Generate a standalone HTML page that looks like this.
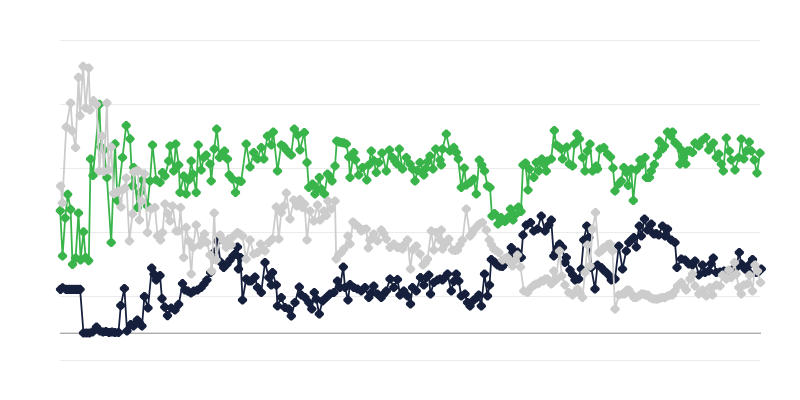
<!DOCTYPE html>
<html><head><meta charset="utf-8"><title>Chart</title>
<style>html,body{margin:0;padding:0;background:#fff;font-family:"Liberation Sans",sans-serif}svg{display:block}</style>
</head><body>
<svg width="800" height="400" viewBox="0 0 800 400">
<rect width="800" height="400" fill="#ffffff"/>
<rect x="60" y="40" width="700" height="1" fill="#ebebeb"/><rect x="60" y="104" width="700" height="1" fill="#ebebeb"/><rect x="60" y="168" width="700" height="1" fill="#ebebeb"/><rect x="60" y="232" width="700" height="1" fill="#ebebeb"/><rect x="60" y="296" width="700" height="1" fill="#ebebeb"/><rect x="60" y="360" width="700" height="1" fill="#ebebeb"/>
<rect x="60" y="332.6" width="701" height="1.4" fill="#adadad"/>
<polyline fill="none" stroke="#16203d" stroke-width="1.8" stroke-linejoin="round" stroke-linecap="round" points="60.5,289.3 62.6,287.8 66.1,289.3 68.9,289.3 71.7,289.3 74.5,289.3 77.3,289.3 80.1,289.3 83.5,333.0 86.5,333.0 89.5,333.0 92.5,332.0 96.5,327.0 100.0,331.0 103.0,332.0 106.0,331.5 109.0,332.5 112.0,332.0 115.0,332.5 118.5,332.5 120.8,305.5 124.4,288.5 127.0,331.0 130.7,324.5 133.5,326.0 137.3,320.0 139.5,323.0 142.0,326.0 144.4,296.5 148.0,308.0 151.8,268.0 154.0,274.2 156.2,280.0 160.0,275.5 162.0,298.8 164.8,307.1 167.5,315.6 171.2,308.0 175.0,310.0 178.8,304.4 182.5,283.8 185.0,290.0 188.0,291.2 191.0,293.0 193.8,291.2 197.5,290.0 201.2,287.5 204.0,284.0 206.9,280.0 210.6,272.5 214.4,252.0 217.5,241.0 220.5,262.0 223.8,267.5 227.0,264.0 230.0,260.0 233.0,256.0 235.0,254.0 237.5,247.0 238.5,269.0 240.5,257.5 242.5,300.0 246.2,279.0 248.8,280.8 251.2,281.0 255.0,277.0 257.5,287.5 261.2,292.5 265.0,262.5 268.8,277.5 271.2,285.0 272.5,272.5 276.2,285.0 277.5,306.0 281.2,297.5 285.0,307.5 288.8,309.0 291.2,316.0 295.0,302.5 299.2,287.0 301.2,295.0 305.0,297.5 308.8,302.5 311.8,309.0 314.2,292.5 316.2,299.0 319.2,314.0 322.5,301.0 326.2,297.5 330.0,294.0 333.8,292.5 337.5,281.0 340.0,287.5 343.2,267.0 345.0,287.5 348.0,300.0 350.0,284.5 353.8,287.5 357.5,289.0 361.2,291.0 365.0,287.5 368.8,297.5 371.2,292.8 373.8,286.0 377.5,294.0 381.2,297.5 383.8,294.2 386.2,291.0 390.0,279.0 393.8,287.5 397.5,279.5 400.0,295.0 403.8,291.0 407.5,296.0 410.5,304.0 412.5,287.5 416.2,291.0 420.5,277.5 423.8,285.0 426.2,277.5 428.8,275.0 430.5,294.0 433.8,282.5 437.5,280.0 440.0,279.0 442.5,280.0 445.0,277.4 447.5,274.0 451.2,291.0 453.8,281.4 456.2,274.0 458.8,281.0 461.2,296.0 465.0,294.0 467.5,302.5 470.0,306.0 473.8,300.0 476.2,298.0 478.8,295.0 481.2,306.0 484.5,274.0 487.5,296.0 489.5,285.0 491.2,259.5 494.5,262.0 497.5,265.0 500.0,266.1 502.5,266.5 504.8,263.4 507.0,258.0 511.2,247.5 513.8,254.0 517.5,252.0 521.2,257.5 523.0,235.0 526.2,225.0 530.5,222.5 533.8,231.0 537.5,229.0 541.2,216.0 545.0,231.0 548.8,225.0 551.2,220.0 553.8,256.0 555.7,252.8 557.6,247.5 559.5,244.0 562.5,247.5 565.0,262.5 566.2,257.5 570.0,270.0 572.5,274.7 575.0,280.0 578.8,279.0 581.2,269.0 583.8,240.0 586.8,226.0 588.8,237.5 591.2,267.5 595.0,289.0 597.5,265.0 601.2,267.5 603.8,270.4 606.2,272.5 608.8,275.1 611.2,280.0 615.0,279.0 618.8,246.0 622.5,269.0 626.2,251.0 628.8,242.5 631.2,239.9 633.8,237.5 636.2,247.0 639.2,226.0 641.2,236.0 644.5,219.0 647.5,230.0 651.2,224.0 653.8,234.0 656.2,233.7 658.8,235.0 662.5,226.0 665.0,236.0 667.5,229.0 671.2,240.0 675.0,242.5 677.0,267.5 681.2,259.0 685.0,260.0 688.8,264.0 692.5,265.0 695.0,261.0 698.8,275.0 702.5,265.0 705.0,272.5 708.8,271.0 711.0,263.6 713.2,258.0 716.2,272.5 720.0,272.0 724.0,271.0 728.0,273.0 732.0,270.0 736.2,267.5 739.2,252.5 741.2,264.0 745.0,269.0 747.5,271.0 750.0,264.2 752.5,259.5 756.2,272.5 758.8,271.4 761.2,269.0"/>
<path fill="#16203d" d="M59.6,284.7h1.8l3.7,3.7v1.8l-3.7,3.7h-1.8l-3.7,-3.7v-1.8zM61.7,283.2h1.8l3.7,3.7v1.8l-3.7,3.7h-1.8l-3.7,-3.7v-1.8zM65.2,284.7h1.8l3.7,3.7v1.8l-3.7,3.7h-1.8l-3.7,-3.7v-1.8zM68.0,284.7h1.8l3.7,3.7v1.8l-3.7,3.7h-1.8l-3.7,-3.7v-1.8zM70.8,284.7h1.8l3.7,3.7v1.8l-3.7,3.7h-1.8l-3.7,-3.7v-1.8zM73.6,284.7h1.8l3.7,3.7v1.8l-3.7,3.7h-1.8l-3.7,-3.7v-1.8zM76.4,284.7h1.8l3.7,3.7v1.8l-3.7,3.7h-1.8l-3.7,-3.7v-1.8zM79.2,284.7h1.8l3.7,3.7v1.8l-3.7,3.7h-1.8l-3.7,-3.7v-1.8zM82.6,328.4h1.8l3.7,3.7v1.8l-3.7,3.7h-1.8l-3.7,-3.7v-1.8zM85.6,328.4h1.8l3.7,3.7v1.8l-3.7,3.7h-1.8l-3.7,-3.7v-1.8zM88.6,328.4h1.8l3.7,3.7v1.8l-3.7,3.7h-1.8l-3.7,-3.7v-1.8zM91.6,327.4h1.8l3.7,3.7v1.8l-3.7,3.7h-1.8l-3.7,-3.7v-1.8zM95.6,322.4h1.8l3.7,3.7v1.8l-3.7,3.7h-1.8l-3.7,-3.7v-1.8zM99.1,326.4h1.8l3.7,3.7v1.8l-3.7,3.7h-1.8l-3.7,-3.7v-1.8zM102.1,327.4h1.8l3.7,3.7v1.8l-3.7,3.7h-1.8l-3.7,-3.7v-1.8zM105.1,326.9h1.8l3.7,3.7v1.8l-3.7,3.7h-1.8l-3.7,-3.7v-1.8zM108.1,327.9h1.8l3.7,3.7v1.8l-3.7,3.7h-1.8l-3.7,-3.7v-1.8zM111.1,327.4h1.8l3.7,3.7v1.8l-3.7,3.7h-1.8l-3.7,-3.7v-1.8zM114.1,327.9h1.8l3.7,3.7v1.8l-3.7,3.7h-1.8l-3.7,-3.7v-1.8zM117.6,327.9h1.8l3.7,3.7v1.8l-3.7,3.7h-1.8l-3.7,-3.7v-1.8zM119.9,300.9h1.8l3.7,3.7v1.8l-3.7,3.7h-1.8l-3.7,-3.7v-1.8zM123.5,283.9h1.8l3.7,3.7v1.8l-3.7,3.7h-1.8l-3.7,-3.7v-1.8zM126.1,326.4h1.8l3.7,3.7v1.8l-3.7,3.7h-1.8l-3.7,-3.7v-1.8zM129.8,319.9h1.8l3.7,3.7v1.8l-3.7,3.7h-1.8l-3.7,-3.7v-1.8zM132.6,321.4h1.8l3.7,3.7v1.8l-3.7,3.7h-1.8l-3.7,-3.7v-1.8zM136.4,315.4h1.8l3.7,3.7v1.8l-3.7,3.7h-1.8l-3.7,-3.7v-1.8zM138.6,318.4h1.8l3.7,3.7v1.8l-3.7,3.7h-1.8l-3.7,-3.7v-1.8zM141.1,321.4h1.8l3.7,3.7v1.8l-3.7,3.7h-1.8l-3.7,-3.7v-1.8zM143.5,291.9h1.8l3.7,3.7v1.8l-3.7,3.7h-1.8l-3.7,-3.7v-1.8zM147.1,303.4h1.8l3.7,3.7v1.8l-3.7,3.7h-1.8l-3.7,-3.7v-1.8zM150.8,263.4h1.8l3.7,3.7v1.8l-3.7,3.7h-1.8l-3.7,-3.7v-1.8zM153.1,269.6h1.8l3.7,3.7v1.8l-3.7,3.7h-1.8l-3.7,-3.7v-1.8zM155.3,275.4h1.8l3.7,3.7v1.8l-3.7,3.7h-1.8l-3.7,-3.7v-1.8zM159.1,270.9h1.8l3.7,3.7v1.8l-3.7,3.7h-1.8l-3.7,-3.7v-1.8zM161.1,294.1h1.8l3.7,3.7v1.8l-3.7,3.7h-1.8l-3.7,-3.7v-1.8zM163.8,302.5h1.8l3.7,3.7v1.8l-3.7,3.7h-1.8l-3.7,-3.7v-1.8zM166.6,311.0h1.8l3.7,3.7v1.8l-3.7,3.7h-1.8l-3.7,-3.7v-1.8zM170.3,303.4h1.8l3.7,3.7v1.8l-3.7,3.7h-1.8l-3.7,-3.7v-1.8zM174.1,305.4h1.8l3.7,3.7v1.8l-3.7,3.7h-1.8l-3.7,-3.7v-1.8zM177.8,299.8h1.8l3.7,3.7v1.8l-3.7,3.7h-1.8l-3.7,-3.7v-1.8zM181.6,279.1h1.8l3.7,3.7v1.8l-3.7,3.7h-1.8l-3.7,-3.7v-1.8zM184.1,285.4h1.8l3.7,3.7v1.8l-3.7,3.7h-1.8l-3.7,-3.7v-1.8zM187.1,286.6h1.8l3.7,3.7v1.8l-3.7,3.7h-1.8l-3.7,-3.7v-1.8zM190.1,288.4h1.8l3.7,3.7v1.8l-3.7,3.7h-1.8l-3.7,-3.7v-1.8zM192.8,286.6h1.8l3.7,3.7v1.8l-3.7,3.7h-1.8l-3.7,-3.7v-1.8zM196.6,285.4h1.8l3.7,3.7v1.8l-3.7,3.7h-1.8l-3.7,-3.7v-1.8zM200.3,282.9h1.8l3.7,3.7v1.8l-3.7,3.7h-1.8l-3.7,-3.7v-1.8zM203.1,279.4h1.8l3.7,3.7v1.8l-3.7,3.7h-1.8l-3.7,-3.7v-1.8zM206.0,275.4h1.8l3.7,3.7v1.8l-3.7,3.7h-1.8l-3.7,-3.7v-1.8zM209.7,267.9h1.8l3.7,3.7v1.8l-3.7,3.7h-1.8l-3.7,-3.7v-1.8zM213.5,247.4h1.8l3.7,3.7v1.8l-3.7,3.7h-1.8l-3.7,-3.7v-1.8zM216.6,236.4h1.8l3.7,3.7v1.8l-3.7,3.7h-1.8l-3.7,-3.7v-1.8zM219.6,257.4h1.8l3.7,3.7v1.8l-3.7,3.7h-1.8l-3.7,-3.7v-1.8zM222.8,262.9h1.8l3.7,3.7v1.8l-3.7,3.7h-1.8l-3.7,-3.7v-1.8zM226.1,259.4h1.8l3.7,3.7v1.8l-3.7,3.7h-1.8l-3.7,-3.7v-1.8zM229.1,255.4h1.8l3.7,3.7v1.8l-3.7,3.7h-1.8l-3.7,-3.7v-1.8zM232.1,251.4h1.8l3.7,3.7v1.8l-3.7,3.7h-1.8l-3.7,-3.7v-1.8zM234.1,249.4h1.8l3.7,3.7v1.8l-3.7,3.7h-1.8l-3.7,-3.7v-1.8zM236.6,242.4h1.8l3.7,3.7v1.8l-3.7,3.7h-1.8l-3.7,-3.7v-1.8zM237.6,264.4h1.8l3.7,3.7v1.8l-3.7,3.7h-1.8l-3.7,-3.7v-1.8zM239.6,252.9h1.8l3.7,3.7v1.8l-3.7,3.7h-1.8l-3.7,-3.7v-1.8zM241.6,295.4h1.8l3.7,3.7v1.8l-3.7,3.7h-1.8l-3.7,-3.7v-1.8zM245.3,274.4h1.8l3.7,3.7v1.8l-3.7,3.7h-1.8l-3.7,-3.7v-1.8zM247.8,276.2h1.8l3.7,3.7v1.8l-3.7,3.7h-1.8l-3.7,-3.7v-1.8zM250.3,276.4h1.8l3.7,3.7v1.8l-3.7,3.7h-1.8l-3.7,-3.7v-1.8zM254.1,272.4h1.8l3.7,3.7v1.8l-3.7,3.7h-1.8l-3.7,-3.7v-1.8zM256.6,282.9h1.8l3.7,3.7v1.8l-3.7,3.7h-1.8l-3.7,-3.7v-1.8zM260.4,287.9h1.8l3.7,3.7v1.8l-3.7,3.7h-1.8l-3.7,-3.7v-1.8zM264.1,257.9h1.8l3.7,3.7v1.8l-3.7,3.7h-1.8l-3.7,-3.7v-1.8zM267.9,272.9h1.8l3.7,3.7v1.8l-3.7,3.7h-1.8l-3.7,-3.7v-1.8zM270.4,280.4h1.8l3.7,3.7v1.8l-3.7,3.7h-1.8l-3.7,-3.7v-1.8zM271.6,267.9h1.8l3.7,3.7v1.8l-3.7,3.7h-1.8l-3.7,-3.7v-1.8zM275.4,280.4h1.8l3.7,3.7v1.8l-3.7,3.7h-1.8l-3.7,-3.7v-1.8zM276.6,301.4h1.8l3.7,3.7v1.8l-3.7,3.7h-1.8l-3.7,-3.7v-1.8zM280.4,292.9h1.8l3.7,3.7v1.8l-3.7,3.7h-1.8l-3.7,-3.7v-1.8zM284.1,302.9h1.8l3.7,3.7v1.8l-3.7,3.7h-1.8l-3.7,-3.7v-1.8zM287.9,304.4h1.8l3.7,3.7v1.8l-3.7,3.7h-1.8l-3.7,-3.7v-1.8zM290.4,311.4h1.8l3.7,3.7v1.8l-3.7,3.7h-1.8l-3.7,-3.7v-1.8zM294.1,297.9h1.8l3.7,3.7v1.8l-3.7,3.7h-1.8l-3.7,-3.7v-1.8zM298.4,282.4h1.8l3.7,3.7v1.8l-3.7,3.7h-1.8l-3.7,-3.7v-1.8zM300.4,290.4h1.8l3.7,3.7v1.8l-3.7,3.7h-1.8l-3.7,-3.7v-1.8zM304.1,292.9h1.8l3.7,3.7v1.8l-3.7,3.7h-1.8l-3.7,-3.7v-1.8zM307.9,297.9h1.8l3.7,3.7v1.8l-3.7,3.7h-1.8l-3.7,-3.7v-1.8zM310.9,304.4h1.8l3.7,3.7v1.8l-3.7,3.7h-1.8l-3.7,-3.7v-1.8zM313.4,287.9h1.8l3.7,3.7v1.8l-3.7,3.7h-1.8l-3.7,-3.7v-1.8zM315.4,294.4h1.8l3.7,3.7v1.8l-3.7,3.7h-1.8l-3.7,-3.7v-1.8zM318.4,309.4h1.8l3.7,3.7v1.8l-3.7,3.7h-1.8l-3.7,-3.7v-1.8zM321.6,296.4h1.8l3.7,3.7v1.8l-3.7,3.7h-1.8l-3.7,-3.7v-1.8zM325.4,292.9h1.8l3.7,3.7v1.8l-3.7,3.7h-1.8l-3.7,-3.7v-1.8zM329.1,289.4h1.8l3.7,3.7v1.8l-3.7,3.7h-1.8l-3.7,-3.7v-1.8zM332.9,287.9h1.8l3.7,3.7v1.8l-3.7,3.7h-1.8l-3.7,-3.7v-1.8zM336.6,276.4h1.8l3.7,3.7v1.8l-3.7,3.7h-1.8l-3.7,-3.7v-1.8zM339.1,282.9h1.8l3.7,3.7v1.8l-3.7,3.7h-1.8l-3.7,-3.7v-1.8zM342.4,262.4h1.8l3.7,3.7v1.8l-3.7,3.7h-1.8l-3.7,-3.7v-1.8zM344.1,282.9h1.8l3.7,3.7v1.8l-3.7,3.7h-1.8l-3.7,-3.7v-1.8zM347.1,295.4h1.8l3.7,3.7v1.8l-3.7,3.7h-1.8l-3.7,-3.7v-1.8zM349.1,279.9h1.8l3.7,3.7v1.8l-3.7,3.7h-1.8l-3.7,-3.7v-1.8zM352.9,282.9h1.8l3.7,3.7v1.8l-3.7,3.7h-1.8l-3.7,-3.7v-1.8zM356.6,284.4h1.8l3.7,3.7v1.8l-3.7,3.7h-1.8l-3.7,-3.7v-1.8zM360.4,286.4h1.8l3.7,3.7v1.8l-3.7,3.7h-1.8l-3.7,-3.7v-1.8zM364.1,282.9h1.8l3.7,3.7v1.8l-3.7,3.7h-1.8l-3.7,-3.7v-1.8zM367.9,292.9h1.8l3.7,3.7v1.8l-3.7,3.7h-1.8l-3.7,-3.7v-1.8zM370.4,288.2h1.8l3.7,3.7v1.8l-3.7,3.7h-1.8l-3.7,-3.7v-1.8zM372.9,281.4h1.8l3.7,3.7v1.8l-3.7,3.7h-1.8l-3.7,-3.7v-1.8zM376.6,289.4h1.8l3.7,3.7v1.8l-3.7,3.7h-1.8l-3.7,-3.7v-1.8zM380.4,292.9h1.8l3.7,3.7v1.8l-3.7,3.7h-1.8l-3.7,-3.7v-1.8zM382.9,289.6h1.8l3.7,3.7v1.8l-3.7,3.7h-1.8l-3.7,-3.7v-1.8zM385.4,286.4h1.8l3.7,3.7v1.8l-3.7,3.7h-1.8l-3.7,-3.7v-1.8zM389.1,274.4h1.8l3.7,3.7v1.8l-3.7,3.7h-1.8l-3.7,-3.7v-1.8zM392.9,282.9h1.8l3.7,3.7v1.8l-3.7,3.7h-1.8l-3.7,-3.7v-1.8zM396.6,274.9h1.8l3.7,3.7v1.8l-3.7,3.7h-1.8l-3.7,-3.7v-1.8zM399.1,290.4h1.8l3.7,3.7v1.8l-3.7,3.7h-1.8l-3.7,-3.7v-1.8zM402.9,286.4h1.8l3.7,3.7v1.8l-3.7,3.7h-1.8l-3.7,-3.7v-1.8zM406.6,291.4h1.8l3.7,3.7v1.8l-3.7,3.7h-1.8l-3.7,-3.7v-1.8zM409.6,299.4h1.8l3.7,3.7v1.8l-3.7,3.7h-1.8l-3.7,-3.7v-1.8zM411.6,282.9h1.8l3.7,3.7v1.8l-3.7,3.7h-1.8l-3.7,-3.7v-1.8zM415.4,286.4h1.8l3.7,3.7v1.8l-3.7,3.7h-1.8l-3.7,-3.7v-1.8zM419.6,272.9h1.8l3.7,3.7v1.8l-3.7,3.7h-1.8l-3.7,-3.7v-1.8zM422.9,280.4h1.8l3.7,3.7v1.8l-3.7,3.7h-1.8l-3.7,-3.7v-1.8zM425.4,272.9h1.8l3.7,3.7v1.8l-3.7,3.7h-1.8l-3.7,-3.7v-1.8zM427.9,270.4h1.8l3.7,3.7v1.8l-3.7,3.7h-1.8l-3.7,-3.7v-1.8zM429.6,289.4h1.8l3.7,3.7v1.8l-3.7,3.7h-1.8l-3.7,-3.7v-1.8zM432.9,277.9h1.8l3.7,3.7v1.8l-3.7,3.7h-1.8l-3.7,-3.7v-1.8zM436.6,275.4h1.8l3.7,3.7v1.8l-3.7,3.7h-1.8l-3.7,-3.7v-1.8zM439.1,274.4h1.8l3.7,3.7v1.8l-3.7,3.7h-1.8l-3.7,-3.7v-1.8zM441.6,275.4h1.8l3.7,3.7v1.8l-3.7,3.7h-1.8l-3.7,-3.7v-1.8zM444.1,272.8h1.8l3.7,3.7v1.8l-3.7,3.7h-1.8l-3.7,-3.7v-1.8zM446.6,269.4h1.8l3.7,3.7v1.8l-3.7,3.7h-1.8l-3.7,-3.7v-1.8zM450.4,286.4h1.8l3.7,3.7v1.8l-3.7,3.7h-1.8l-3.7,-3.7v-1.8zM452.9,276.8h1.8l3.7,3.7v1.8l-3.7,3.7h-1.8l-3.7,-3.7v-1.8zM455.4,269.4h1.8l3.7,3.7v1.8l-3.7,3.7h-1.8l-3.7,-3.7v-1.8zM457.9,276.4h1.8l3.7,3.7v1.8l-3.7,3.7h-1.8l-3.7,-3.7v-1.8zM460.4,291.4h1.8l3.7,3.7v1.8l-3.7,3.7h-1.8l-3.7,-3.7v-1.8zM464.1,289.4h1.8l3.7,3.7v1.8l-3.7,3.7h-1.8l-3.7,-3.7v-1.8zM466.6,297.9h1.8l3.7,3.7v1.8l-3.7,3.7h-1.8l-3.7,-3.7v-1.8zM469.1,301.4h1.8l3.7,3.7v1.8l-3.7,3.7h-1.8l-3.7,-3.7v-1.8zM472.9,295.4h1.8l3.7,3.7v1.8l-3.7,3.7h-1.8l-3.7,-3.7v-1.8zM475.4,293.4h1.8l3.7,3.7v1.8l-3.7,3.7h-1.8l-3.7,-3.7v-1.8zM477.9,290.4h1.8l3.7,3.7v1.8l-3.7,3.7h-1.8l-3.7,-3.7v-1.8zM480.4,301.4h1.8l3.7,3.7v1.8l-3.7,3.7h-1.8l-3.7,-3.7v-1.8zM483.6,269.4h1.8l3.7,3.7v1.8l-3.7,3.7h-1.8l-3.7,-3.7v-1.8zM486.6,291.4h1.8l3.7,3.7v1.8l-3.7,3.7h-1.8l-3.7,-3.7v-1.8zM488.6,280.4h1.8l3.7,3.7v1.8l-3.7,3.7h-1.8l-3.7,-3.7v-1.8zM490.4,254.9h1.8l3.7,3.7v1.8l-3.7,3.7h-1.8l-3.7,-3.7v-1.8zM493.6,257.4h1.8l3.7,3.7v1.8l-3.7,3.7h-1.8l-3.7,-3.7v-1.8zM496.6,260.4h1.8l3.7,3.7v1.8l-3.7,3.7h-1.8l-3.7,-3.7v-1.8zM499.1,261.5h1.8l3.7,3.7v1.8l-3.7,3.7h-1.8l-3.7,-3.7v-1.8zM501.6,261.9h1.8l3.7,3.7v1.8l-3.7,3.7h-1.8l-3.7,-3.7v-1.8zM503.9,258.8h1.8l3.7,3.7v1.8l-3.7,3.7h-1.8l-3.7,-3.7v-1.8zM506.1,253.4h1.8l3.7,3.7v1.8l-3.7,3.7h-1.8l-3.7,-3.7v-1.8zM510.4,242.9h1.8l3.7,3.7v1.8l-3.7,3.7h-1.8l-3.7,-3.7v-1.8zM512.9,249.4h1.8l3.7,3.7v1.8l-3.7,3.7h-1.8l-3.7,-3.7v-1.8zM516.6,247.4h1.8l3.7,3.7v1.8l-3.7,3.7h-1.8l-3.7,-3.7v-1.8zM520.4,252.9h1.8l3.7,3.7v1.8l-3.7,3.7h-1.8l-3.7,-3.7v-1.8zM522.1,230.4h1.8l3.7,3.7v1.8l-3.7,3.7h-1.8l-3.7,-3.7v-1.8zM525.4,220.4h1.8l3.7,3.7v1.8l-3.7,3.7h-1.8l-3.7,-3.7v-1.8zM529.6,217.9h1.8l3.7,3.7v1.8l-3.7,3.7h-1.8l-3.7,-3.7v-1.8zM532.9,226.4h1.8l3.7,3.7v1.8l-3.7,3.7h-1.8l-3.7,-3.7v-1.8zM536.6,224.4h1.8l3.7,3.7v1.8l-3.7,3.7h-1.8l-3.7,-3.7v-1.8zM540.4,211.4h1.8l3.7,3.7v1.8l-3.7,3.7h-1.8l-3.7,-3.7v-1.8zM544.1,226.4h1.8l3.7,3.7v1.8l-3.7,3.7h-1.8l-3.7,-3.7v-1.8zM547.9,220.4h1.8l3.7,3.7v1.8l-3.7,3.7h-1.8l-3.7,-3.7v-1.8zM550.4,215.4h1.8l3.7,3.7v1.8l-3.7,3.7h-1.8l-3.7,-3.7v-1.8zM552.9,251.4h1.8l3.7,3.7v1.8l-3.7,3.7h-1.8l-3.7,-3.7v-1.8zM554.8,248.2h1.8l3.7,3.7v1.8l-3.7,3.7h-1.8l-3.7,-3.7v-1.8zM556.7,242.9h1.8l3.7,3.7v1.8l-3.7,3.7h-1.8l-3.7,-3.7v-1.8zM558.6,239.4h1.8l3.7,3.7v1.8l-3.7,3.7h-1.8l-3.7,-3.7v-1.8zM561.6,242.9h1.8l3.7,3.7v1.8l-3.7,3.7h-1.8l-3.7,-3.7v-1.8zM564.1,257.9h1.8l3.7,3.7v1.8l-3.7,3.7h-1.8l-3.7,-3.7v-1.8zM565.4,252.9h1.8l3.7,3.7v1.8l-3.7,3.7h-1.8l-3.7,-3.7v-1.8zM569.1,265.4h1.8l3.7,3.7v1.8l-3.7,3.7h-1.8l-3.7,-3.7v-1.8zM571.6,270.1h1.8l3.7,3.7v1.8l-3.7,3.7h-1.8l-3.7,-3.7v-1.8zM574.1,275.4h1.8l3.7,3.7v1.8l-3.7,3.7h-1.8l-3.7,-3.7v-1.8zM577.9,274.4h1.8l3.7,3.7v1.8l-3.7,3.7h-1.8l-3.7,-3.7v-1.8zM580.4,264.4h1.8l3.7,3.7v1.8l-3.7,3.7h-1.8l-3.7,-3.7v-1.8zM582.9,235.4h1.8l3.7,3.7v1.8l-3.7,3.7h-1.8l-3.7,-3.7v-1.8zM585.9,221.4h1.8l3.7,3.7v1.8l-3.7,3.7h-1.8l-3.7,-3.7v-1.8zM587.9,232.9h1.8l3.7,3.7v1.8l-3.7,3.7h-1.8l-3.7,-3.7v-1.8zM590.4,262.9h1.8l3.7,3.7v1.8l-3.7,3.7h-1.8l-3.7,-3.7v-1.8zM594.1,284.4h1.8l3.7,3.7v1.8l-3.7,3.7h-1.8l-3.7,-3.7v-1.8zM596.6,260.4h1.8l3.7,3.7v1.8l-3.7,3.7h-1.8l-3.7,-3.7v-1.8zM600.4,262.9h1.8l3.7,3.7v1.8l-3.7,3.7h-1.8l-3.7,-3.7v-1.8zM602.9,265.8h1.8l3.7,3.7v1.8l-3.7,3.7h-1.8l-3.7,-3.7v-1.8zM605.4,267.9h1.8l3.7,3.7v1.8l-3.7,3.7h-1.8l-3.7,-3.7v-1.8zM607.9,270.5h1.8l3.7,3.7v1.8l-3.7,3.7h-1.8l-3.7,-3.7v-1.8zM610.4,275.4h1.8l3.7,3.7v1.8l-3.7,3.7h-1.8l-3.7,-3.7v-1.8zM614.1,274.4h1.8l3.7,3.7v1.8l-3.7,3.7h-1.8l-3.7,-3.7v-1.8zM617.9,241.4h1.8l3.7,3.7v1.8l-3.7,3.7h-1.8l-3.7,-3.7v-1.8zM621.6,264.4h1.8l3.7,3.7v1.8l-3.7,3.7h-1.8l-3.7,-3.7v-1.8zM625.4,246.4h1.8l3.7,3.7v1.8l-3.7,3.7h-1.8l-3.7,-3.7v-1.8zM627.9,237.9h1.8l3.7,3.7v1.8l-3.7,3.7h-1.8l-3.7,-3.7v-1.8zM630.4,235.3h1.8l3.7,3.7v1.8l-3.7,3.7h-1.8l-3.7,-3.7v-1.8zM632.9,232.9h1.8l3.7,3.7v1.8l-3.7,3.7h-1.8l-3.7,-3.7v-1.8zM635.4,242.4h1.8l3.7,3.7v1.8l-3.7,3.7h-1.8l-3.7,-3.7v-1.8zM638.4,221.4h1.8l3.7,3.7v1.8l-3.7,3.7h-1.8l-3.7,-3.7v-1.8zM640.4,231.4h1.8l3.7,3.7v1.8l-3.7,3.7h-1.8l-3.7,-3.7v-1.8zM643.6,214.4h1.8l3.7,3.7v1.8l-3.7,3.7h-1.8l-3.7,-3.7v-1.8zM646.6,225.4h1.8l3.7,3.7v1.8l-3.7,3.7h-1.8l-3.7,-3.7v-1.8zM650.4,219.4h1.8l3.7,3.7v1.8l-3.7,3.7h-1.8l-3.7,-3.7v-1.8zM652.9,229.4h1.8l3.7,3.7v1.8l-3.7,3.7h-1.8l-3.7,-3.7v-1.8zM655.4,229.1h1.8l3.7,3.7v1.8l-3.7,3.7h-1.8l-3.7,-3.7v-1.8zM657.9,230.4h1.8l3.7,3.7v1.8l-3.7,3.7h-1.8l-3.7,-3.7v-1.8zM661.6,221.4h1.8l3.7,3.7v1.8l-3.7,3.7h-1.8l-3.7,-3.7v-1.8zM664.1,231.4h1.8l3.7,3.7v1.8l-3.7,3.7h-1.8l-3.7,-3.7v-1.8zM666.6,224.4h1.8l3.7,3.7v1.8l-3.7,3.7h-1.8l-3.7,-3.7v-1.8zM670.4,235.4h1.8l3.7,3.7v1.8l-3.7,3.7h-1.8l-3.7,-3.7v-1.8zM674.1,237.9h1.8l3.7,3.7v1.8l-3.7,3.7h-1.8l-3.7,-3.7v-1.8zM676.1,262.9h1.8l3.7,3.7v1.8l-3.7,3.7h-1.8l-3.7,-3.7v-1.8zM680.4,254.4h1.8l3.7,3.7v1.8l-3.7,3.7h-1.8l-3.7,-3.7v-1.8zM684.1,255.4h1.8l3.7,3.7v1.8l-3.7,3.7h-1.8l-3.7,-3.7v-1.8zM687.9,259.4h1.8l3.7,3.7v1.8l-3.7,3.7h-1.8l-3.7,-3.7v-1.8zM691.6,260.4h1.8l3.7,3.7v1.8l-3.7,3.7h-1.8l-3.7,-3.7v-1.8zM694.1,256.4h1.8l3.7,3.7v1.8l-3.7,3.7h-1.8l-3.7,-3.7v-1.8zM697.9,270.4h1.8l3.7,3.7v1.8l-3.7,3.7h-1.8l-3.7,-3.7v-1.8zM701.6,260.4h1.8l3.7,3.7v1.8l-3.7,3.7h-1.8l-3.7,-3.7v-1.8zM704.1,267.9h1.8l3.7,3.7v1.8l-3.7,3.7h-1.8l-3.7,-3.7v-1.8zM707.9,266.4h1.8l3.7,3.7v1.8l-3.7,3.7h-1.8l-3.7,-3.7v-1.8zM710.1,259.0h1.8l3.7,3.7v1.8l-3.7,3.7h-1.8l-3.7,-3.7v-1.8zM712.4,253.4h1.8l3.7,3.7v1.8l-3.7,3.7h-1.8l-3.7,-3.7v-1.8zM715.4,267.9h1.8l3.7,3.7v1.8l-3.7,3.7h-1.8l-3.7,-3.7v-1.8zM719.1,267.4h1.8l3.7,3.7v1.8l-3.7,3.7h-1.8l-3.7,-3.7v-1.8zM723.1,266.4h1.8l3.7,3.7v1.8l-3.7,3.7h-1.8l-3.7,-3.7v-1.8zM727.1,268.4h1.8l3.7,3.7v1.8l-3.7,3.7h-1.8l-3.7,-3.7v-1.8zM731.1,265.4h1.8l3.7,3.7v1.8l-3.7,3.7h-1.8l-3.7,-3.7v-1.8zM735.4,262.9h1.8l3.7,3.7v1.8l-3.7,3.7h-1.8l-3.7,-3.7v-1.8zM738.4,247.9h1.8l3.7,3.7v1.8l-3.7,3.7h-1.8l-3.7,-3.7v-1.8zM740.4,259.4h1.8l3.7,3.7v1.8l-3.7,3.7h-1.8l-3.7,-3.7v-1.8zM744.1,264.4h1.8l3.7,3.7v1.8l-3.7,3.7h-1.8l-3.7,-3.7v-1.8zM746.6,266.4h1.8l3.7,3.7v1.8l-3.7,3.7h-1.8l-3.7,-3.7v-1.8zM749.1,259.6h1.8l3.7,3.7v1.8l-3.7,3.7h-1.8l-3.7,-3.7v-1.8zM751.6,254.9h1.8l3.7,3.7v1.8l-3.7,3.7h-1.8l-3.7,-3.7v-1.8zM755.4,267.9h1.8l3.7,3.7v1.8l-3.7,3.7h-1.8l-3.7,-3.7v-1.8zM757.9,266.8h1.8l3.7,3.7v1.8l-3.7,3.7h-1.8l-3.7,-3.7v-1.8zM760.4,264.4h1.8l3.7,3.7v1.8l-3.7,3.7h-1.8l-3.7,-3.7v-1.8z"/>
<polyline fill="none" stroke="#39b44a" stroke-width="1.8" stroke-linejoin="round" stroke-linecap="round" points="60.2,210.6 62.5,256.0 65.2,218.0 67.8,194.4 70.6,209.4 72.5,264.4 75.6,258.0 78.5,213.0 80.6,260.0 83.5,231.9 85.6,257.5 88.8,260.6 90.6,159.0 93.0,175.5 99.4,104.4 101.0,147.0 104.0,150.0 106.9,177.5 111.2,242.5 115.0,143.8 117.5,200.6 122.5,157.5 126.2,125.5 130.0,138.8 132.5,186.0 133.8,167.5 137.5,207.5 140.0,192.5 142.5,180.0 147.5,206.0 150.0,181.0 152.5,145.0 156.2,180.0 160.0,182.5 162.5,172.5 165.0,176.0 168.8,161.0 170.0,146.0 173.8,171.0 175.8,144.0 178.8,165.0 180.0,192.5 183.8,176.0 186.2,194.0 188.8,180.0 191.2,161.0 193.0,174.0 196.2,192.5 198.2,145.0 201.2,170.0 203.8,157.5 206.2,155.0 210.0,164.0 211.2,181.0 214.2,149.0 216.8,129.0 219.5,157.5 222.0,153.8 224.5,151.0 227.5,159.0 229.2,175.0 232.5,179.0 235.5,192.5 238.8,181.0 241.2,181.2 246.2,144.0 250.0,167.0 253.8,152.5 257.5,159.0 261.2,147.5 263.8,159.0 267.5,136.0 271.2,145.0 273.2,132.0 277.5,171.0 281.2,145.0 283.8,146.7 286.2,150.0 288.8,152.9 291.2,155.0 294.2,129.0 297.5,135.0 300.0,150.0 304.2,132.5 307.0,162.5 308.8,187.5 312.5,184.0 315.0,194.0 317.0,190.0 319.2,177.5 321.2,189.0 324.5,194.0 327.5,174.0 329.8,176.5 332.0,181.0 335.0,166.0 336.8,141.0 339.0,141.8 341.2,142.5 343.8,142.9 346.2,144.0 348.8,157.0 350.0,177.5 353.8,152.5 355.5,160.0 358.8,175.0 362.5,167.5 366.8,180.0 368.8,165.0 371.2,151.0 373.8,160.7 376.2,172.5 378.8,162.5 382.0,153.0 386.2,171.0 389.5,150.0 392.5,157.5 394.8,160.8 397.0,164.0 399.2,149.0 402.5,169.0 406.2,157.5 410.0,164.0 412.5,169.0 415.0,181.0 417.5,170.6 420.0,162.5 423.8,175.0 425.8,168.5 427.9,161.3 430.0,156.0 433.0,169.0 435.8,149.0 440.0,160.0 441.2,165.0 442.5,149.0 446.2,134.0 450.0,151.0 453.8,147.5 456.2,152.5 458.2,159.0 461.2,187.5 464.2,168.0 466.2,185.0 470.0,182.5 473.8,179.0 476.2,194.0 479.2,160.0 481.8,165.0 484.5,171.0 487.5,186.0 490.0,187.5 492.0,216.0 494.5,213.5 498.0,224.0 501.0,217.5 505.0,221.5 509.0,216.5 510.5,209.0 513.0,220.0 515.0,215.0 518.5,207.0 521.0,211.5 523.0,165.0 525.5,163.0 528.0,190.0 529.5,169.0 533.8,177.5 536.2,162.5 538.8,171.0 541.8,159.0 544.0,164.0 546.2,171.0 547.5,161.0 551.2,159.0 554.2,130.5 556.2,145.0 558.8,146.8 561.2,149.0 562.5,159.0 566.8,147.0 569.2,164.0 572.5,166.0 574.5,144.0 577.0,134.0 579.5,139.0 582.5,157.5 585.0,171.0 587.5,151.0 590.0,144.0 592.5,171.0 596.2,166.0 597.5,169.0 600.0,149.0 603.8,147.5 607.5,154.0 610.5,157.0 613.0,168.0 615.0,191.0 618.8,184.0 621.2,181.0 623.8,167.5 626.2,172.5 628.2,185.5 631.2,169.0 633.2,200.5 636.2,170.0 640.0,160.0 641.2,165.0 645.0,157.5 646.2,177.5 649.5,177.5 651.2,171.0 654.2,164.5 657.5,155.0 659.2,141.0 662.5,149.0 664.5,146.0 667.5,132.0 670.8,136.0 672.5,132.0 675.0,142.5 677.5,145.0 680.0,164.0 681.2,150.0 683.5,157.8 685.8,164.0 687.5,151.0 690.0,150.8 692.5,152.5 695.0,143.0 698.8,146.0 702.5,140.0 705.8,137.5 708.8,150.0 711.0,145.8 713.2,143.0 716.2,157.5 718.8,154.0 721.2,164.0 723.2,171.0 726.2,138.0 729.2,151.0 731.2,160.0 735.0,170.0 738.8,157.5 741.2,139.0 743.8,159.0 746.5,150.8 749.2,142.0 751.2,151.0 754.2,160.0 757.0,173.0 760.0,153.0"/>
<path fill="#39b44a" d="M59.4,206.0h1.8l3.7,3.7v1.8l-3.7,3.7h-1.8l-3.7,-3.7v-1.8zM61.6,251.4h1.8l3.7,3.7v1.8l-3.7,3.7h-1.8l-3.7,-3.7v-1.8zM64.3,213.4h1.8l3.7,3.7v1.8l-3.7,3.7h-1.8l-3.7,-3.7v-1.8zM66.8,189.8h1.8l3.7,3.7v1.8l-3.7,3.7h-1.8l-3.7,-3.7v-1.8zM69.7,204.8h1.8l3.7,3.7v1.8l-3.7,3.7h-1.8l-3.7,-3.7v-1.8zM71.6,259.8h1.8l3.7,3.7v1.8l-3.7,3.7h-1.8l-3.7,-3.7v-1.8zM74.7,253.4h1.8l3.7,3.7v1.8l-3.7,3.7h-1.8l-3.7,-3.7v-1.8zM77.6,208.4h1.8l3.7,3.7v1.8l-3.7,3.7h-1.8l-3.7,-3.7v-1.8zM79.7,255.4h1.8l3.7,3.7v1.8l-3.7,3.7h-1.8l-3.7,-3.7v-1.8zM82.6,227.3h1.8l3.7,3.7v1.8l-3.7,3.7h-1.8l-3.7,-3.7v-1.8zM84.7,252.9h1.8l3.7,3.7v1.8l-3.7,3.7h-1.8l-3.7,-3.7v-1.8zM87.8,256.0h1.8l3.7,3.7v1.8l-3.7,3.7h-1.8l-3.7,-3.7v-1.8zM89.7,154.4h1.8l3.7,3.7v1.8l-3.7,3.7h-1.8l-3.7,-3.7v-1.8zM92.1,170.9h1.8l3.7,3.7v1.8l-3.7,3.7h-1.8l-3.7,-3.7v-1.8zM98.5,99.8h1.8l3.7,3.7v1.8l-3.7,3.7h-1.8l-3.7,-3.7v-1.8zM100.1,142.4h1.8l3.7,3.7v1.8l-3.7,3.7h-1.8l-3.7,-3.7v-1.8zM103.1,145.4h1.8l3.7,3.7v1.8l-3.7,3.7h-1.8l-3.7,-3.7v-1.8zM106.0,172.9h1.8l3.7,3.7v1.8l-3.7,3.7h-1.8l-3.7,-3.7v-1.8zM110.3,237.9h1.8l3.7,3.7v1.8l-3.7,3.7h-1.8l-3.7,-3.7v-1.8zM114.1,139.2h1.8l3.7,3.7v1.8l-3.7,3.7h-1.8l-3.7,-3.7v-1.8zM116.6,196.0h1.8l3.7,3.7v1.8l-3.7,3.7h-1.8l-3.7,-3.7v-1.8zM121.6,152.9h1.8l3.7,3.7v1.8l-3.7,3.7h-1.8l-3.7,-3.7v-1.8zM125.3,120.9h1.8l3.7,3.7v1.8l-3.7,3.7h-1.8l-3.7,-3.7v-1.8zM129.1,134.2h1.8l3.7,3.7v1.8l-3.7,3.7h-1.8l-3.7,-3.7v-1.8zM131.6,181.4h1.8l3.7,3.7v1.8l-3.7,3.7h-1.8l-3.7,-3.7v-1.8zM132.8,162.9h1.8l3.7,3.7v1.8l-3.7,3.7h-1.8l-3.7,-3.7v-1.8zM136.6,202.9h1.8l3.7,3.7v1.8l-3.7,3.7h-1.8l-3.7,-3.7v-1.8zM139.1,187.9h1.8l3.7,3.7v1.8l-3.7,3.7h-1.8l-3.7,-3.7v-1.8zM141.6,175.4h1.8l3.7,3.7v1.8l-3.7,3.7h-1.8l-3.7,-3.7v-1.8zM146.6,201.4h1.8l3.7,3.7v1.8l-3.7,3.7h-1.8l-3.7,-3.7v-1.8zM149.1,176.4h1.8l3.7,3.7v1.8l-3.7,3.7h-1.8l-3.7,-3.7v-1.8zM151.6,140.4h1.8l3.7,3.7v1.8l-3.7,3.7h-1.8l-3.7,-3.7v-1.8zM155.3,175.4h1.8l3.7,3.7v1.8l-3.7,3.7h-1.8l-3.7,-3.7v-1.8zM159.1,177.9h1.8l3.7,3.7v1.8l-3.7,3.7h-1.8l-3.7,-3.7v-1.8zM161.6,167.9h1.8l3.7,3.7v1.8l-3.7,3.7h-1.8l-3.7,-3.7v-1.8zM164.1,171.4h1.8l3.7,3.7v1.8l-3.7,3.7h-1.8l-3.7,-3.7v-1.8zM167.8,156.4h1.8l3.7,3.7v1.8l-3.7,3.7h-1.8l-3.7,-3.7v-1.8zM169.1,141.4h1.8l3.7,3.7v1.8l-3.7,3.7h-1.8l-3.7,-3.7v-1.8zM172.8,166.4h1.8l3.7,3.7v1.8l-3.7,3.7h-1.8l-3.7,-3.7v-1.8zM174.8,139.4h1.8l3.7,3.7v1.8l-3.7,3.7h-1.8l-3.7,-3.7v-1.8zM177.8,160.4h1.8l3.7,3.7v1.8l-3.7,3.7h-1.8l-3.7,-3.7v-1.8zM179.1,187.9h1.8l3.7,3.7v1.8l-3.7,3.7h-1.8l-3.7,-3.7v-1.8zM182.8,171.4h1.8l3.7,3.7v1.8l-3.7,3.7h-1.8l-3.7,-3.7v-1.8zM185.3,189.4h1.8l3.7,3.7v1.8l-3.7,3.7h-1.8l-3.7,-3.7v-1.8zM187.8,175.4h1.8l3.7,3.7v1.8l-3.7,3.7h-1.8l-3.7,-3.7v-1.8zM190.3,156.4h1.8l3.7,3.7v1.8l-3.7,3.7h-1.8l-3.7,-3.7v-1.8zM192.1,169.4h1.8l3.7,3.7v1.8l-3.7,3.7h-1.8l-3.7,-3.7v-1.8zM195.3,187.9h1.8l3.7,3.7v1.8l-3.7,3.7h-1.8l-3.7,-3.7v-1.8zM197.3,140.4h1.8l3.7,3.7v1.8l-3.7,3.7h-1.8l-3.7,-3.7v-1.8zM200.3,165.4h1.8l3.7,3.7v1.8l-3.7,3.7h-1.8l-3.7,-3.7v-1.8zM202.8,152.9h1.8l3.7,3.7v1.8l-3.7,3.7h-1.8l-3.7,-3.7v-1.8zM205.3,150.4h1.8l3.7,3.7v1.8l-3.7,3.7h-1.8l-3.7,-3.7v-1.8zM209.1,159.4h1.8l3.7,3.7v1.8l-3.7,3.7h-1.8l-3.7,-3.7v-1.8zM210.3,176.4h1.8l3.7,3.7v1.8l-3.7,3.7h-1.8l-3.7,-3.7v-1.8zM213.3,144.4h1.8l3.7,3.7v1.8l-3.7,3.7h-1.8l-3.7,-3.7v-1.8zM215.8,124.4h1.8l3.7,3.7v1.8l-3.7,3.7h-1.8l-3.7,-3.7v-1.8zM218.6,152.9h1.8l3.7,3.7v1.8l-3.7,3.7h-1.8l-3.7,-3.7v-1.8zM221.1,149.2h1.8l3.7,3.7v1.8l-3.7,3.7h-1.8l-3.7,-3.7v-1.8zM223.6,146.4h1.8l3.7,3.7v1.8l-3.7,3.7h-1.8l-3.7,-3.7v-1.8zM226.6,154.4h1.8l3.7,3.7v1.8l-3.7,3.7h-1.8l-3.7,-3.7v-1.8zM228.3,170.4h1.8l3.7,3.7v1.8l-3.7,3.7h-1.8l-3.7,-3.7v-1.8zM231.6,174.4h1.8l3.7,3.7v1.8l-3.7,3.7h-1.8l-3.7,-3.7v-1.8zM234.6,187.9h1.8l3.7,3.7v1.8l-3.7,3.7h-1.8l-3.7,-3.7v-1.8zM237.8,176.4h1.8l3.7,3.7v1.8l-3.7,3.7h-1.8l-3.7,-3.7v-1.8zM240.3,176.7h1.8l3.7,3.7v1.8l-3.7,3.7h-1.8l-3.7,-3.7v-1.8zM245.3,139.4h1.8l3.7,3.7v1.8l-3.7,3.7h-1.8l-3.7,-3.7v-1.8zM249.1,162.4h1.8l3.7,3.7v1.8l-3.7,3.7h-1.8l-3.7,-3.7v-1.8zM252.8,147.9h1.8l3.7,3.7v1.8l-3.7,3.7h-1.8l-3.7,-3.7v-1.8zM256.6,154.4h1.8l3.7,3.7v1.8l-3.7,3.7h-1.8l-3.7,-3.7v-1.8zM260.4,142.9h1.8l3.7,3.7v1.8l-3.7,3.7h-1.8l-3.7,-3.7v-1.8zM262.9,154.4h1.8l3.7,3.7v1.8l-3.7,3.7h-1.8l-3.7,-3.7v-1.8zM266.6,131.4h1.8l3.7,3.7v1.8l-3.7,3.7h-1.8l-3.7,-3.7v-1.8zM270.4,140.4h1.8l3.7,3.7v1.8l-3.7,3.7h-1.8l-3.7,-3.7v-1.8zM272.4,127.4h1.8l3.7,3.7v1.8l-3.7,3.7h-1.8l-3.7,-3.7v-1.8zM276.6,166.4h1.8l3.7,3.7v1.8l-3.7,3.7h-1.8l-3.7,-3.7v-1.8zM280.4,140.4h1.8l3.7,3.7v1.8l-3.7,3.7h-1.8l-3.7,-3.7v-1.8zM282.9,142.1h1.8l3.7,3.7v1.8l-3.7,3.7h-1.8l-3.7,-3.7v-1.8zM285.4,145.4h1.8l3.7,3.7v1.8l-3.7,3.7h-1.8l-3.7,-3.7v-1.8zM287.9,148.3h1.8l3.7,3.7v1.8l-3.7,3.7h-1.8l-3.7,-3.7v-1.8zM290.4,150.4h1.8l3.7,3.7v1.8l-3.7,3.7h-1.8l-3.7,-3.7v-1.8zM293.4,124.4h1.8l3.7,3.7v1.8l-3.7,3.7h-1.8l-3.7,-3.7v-1.8zM296.6,130.4h1.8l3.7,3.7v1.8l-3.7,3.7h-1.8l-3.7,-3.7v-1.8zM299.1,145.4h1.8l3.7,3.7v1.8l-3.7,3.7h-1.8l-3.7,-3.7v-1.8zM303.4,127.9h1.8l3.7,3.7v1.8l-3.7,3.7h-1.8l-3.7,-3.7v-1.8zM306.1,157.9h1.8l3.7,3.7v1.8l-3.7,3.7h-1.8l-3.7,-3.7v-1.8zM307.9,182.9h1.8l3.7,3.7v1.8l-3.7,3.7h-1.8l-3.7,-3.7v-1.8zM311.6,179.4h1.8l3.7,3.7v1.8l-3.7,3.7h-1.8l-3.7,-3.7v-1.8zM314.1,189.4h1.8l3.7,3.7v1.8l-3.7,3.7h-1.8l-3.7,-3.7v-1.8zM316.1,185.4h1.8l3.7,3.7v1.8l-3.7,3.7h-1.8l-3.7,-3.7v-1.8zM318.4,172.9h1.8l3.7,3.7v1.8l-3.7,3.7h-1.8l-3.7,-3.7v-1.8zM320.4,184.4h1.8l3.7,3.7v1.8l-3.7,3.7h-1.8l-3.7,-3.7v-1.8zM323.6,189.4h1.8l3.7,3.7v1.8l-3.7,3.7h-1.8l-3.7,-3.7v-1.8zM326.6,169.4h1.8l3.7,3.7v1.8l-3.7,3.7h-1.8l-3.7,-3.7v-1.8zM328.9,171.9h1.8l3.7,3.7v1.8l-3.7,3.7h-1.8l-3.7,-3.7v-1.8zM331.1,176.4h1.8l3.7,3.7v1.8l-3.7,3.7h-1.8l-3.7,-3.7v-1.8zM334.1,161.4h1.8l3.7,3.7v1.8l-3.7,3.7h-1.8l-3.7,-3.7v-1.8zM335.9,136.4h1.8l3.7,3.7v1.8l-3.7,3.7h-1.8l-3.7,-3.7v-1.8zM338.1,137.2h1.8l3.7,3.7v1.8l-3.7,3.7h-1.8l-3.7,-3.7v-1.8zM340.4,137.9h1.8l3.7,3.7v1.8l-3.7,3.7h-1.8l-3.7,-3.7v-1.8zM342.9,138.3h1.8l3.7,3.7v1.8l-3.7,3.7h-1.8l-3.7,-3.7v-1.8zM345.4,139.4h1.8l3.7,3.7v1.8l-3.7,3.7h-1.8l-3.7,-3.7v-1.8zM347.9,152.4h1.8l3.7,3.7v1.8l-3.7,3.7h-1.8l-3.7,-3.7v-1.8zM349.1,172.9h1.8l3.7,3.7v1.8l-3.7,3.7h-1.8l-3.7,-3.7v-1.8zM352.9,147.9h1.8l3.7,3.7v1.8l-3.7,3.7h-1.8l-3.7,-3.7v-1.8zM354.6,155.4h1.8l3.7,3.7v1.8l-3.7,3.7h-1.8l-3.7,-3.7v-1.8zM357.9,170.4h1.8l3.7,3.7v1.8l-3.7,3.7h-1.8l-3.7,-3.7v-1.8zM361.6,162.9h1.8l3.7,3.7v1.8l-3.7,3.7h-1.8l-3.7,-3.7v-1.8zM365.9,175.4h1.8l3.7,3.7v1.8l-3.7,3.7h-1.8l-3.7,-3.7v-1.8zM367.9,160.4h1.8l3.7,3.7v1.8l-3.7,3.7h-1.8l-3.7,-3.7v-1.8zM370.4,146.4h1.8l3.7,3.7v1.8l-3.7,3.7h-1.8l-3.7,-3.7v-1.8zM372.9,156.1h1.8l3.7,3.7v1.8l-3.7,3.7h-1.8l-3.7,-3.7v-1.8zM375.4,167.9h1.8l3.7,3.7v1.8l-3.7,3.7h-1.8l-3.7,-3.7v-1.8zM377.9,157.9h1.8l3.7,3.7v1.8l-3.7,3.7h-1.8l-3.7,-3.7v-1.8zM381.1,148.4h1.8l3.7,3.7v1.8l-3.7,3.7h-1.8l-3.7,-3.7v-1.8zM385.4,166.4h1.8l3.7,3.7v1.8l-3.7,3.7h-1.8l-3.7,-3.7v-1.8zM388.6,145.4h1.8l3.7,3.7v1.8l-3.7,3.7h-1.8l-3.7,-3.7v-1.8zM391.6,152.9h1.8l3.7,3.7v1.8l-3.7,3.7h-1.8l-3.7,-3.7v-1.8zM393.9,156.2h1.8l3.7,3.7v1.8l-3.7,3.7h-1.8l-3.7,-3.7v-1.8zM396.1,159.4h1.8l3.7,3.7v1.8l-3.7,3.7h-1.8l-3.7,-3.7v-1.8zM398.4,144.4h1.8l3.7,3.7v1.8l-3.7,3.7h-1.8l-3.7,-3.7v-1.8zM401.6,164.4h1.8l3.7,3.7v1.8l-3.7,3.7h-1.8l-3.7,-3.7v-1.8zM405.4,152.9h1.8l3.7,3.7v1.8l-3.7,3.7h-1.8l-3.7,-3.7v-1.8zM409.1,159.4h1.8l3.7,3.7v1.8l-3.7,3.7h-1.8l-3.7,-3.7v-1.8zM411.6,164.4h1.8l3.7,3.7v1.8l-3.7,3.7h-1.8l-3.7,-3.7v-1.8zM414.1,176.4h1.8l3.7,3.7v1.8l-3.7,3.7h-1.8l-3.7,-3.7v-1.8zM416.6,166.0h1.8l3.7,3.7v1.8l-3.7,3.7h-1.8l-3.7,-3.7v-1.8zM419.1,157.9h1.8l3.7,3.7v1.8l-3.7,3.7h-1.8l-3.7,-3.7v-1.8zM422.9,170.4h1.8l3.7,3.7v1.8l-3.7,3.7h-1.8l-3.7,-3.7v-1.8zM424.9,163.9h1.8l3.7,3.7v1.8l-3.7,3.7h-1.8l-3.7,-3.7v-1.8zM427.0,156.7h1.8l3.7,3.7v1.8l-3.7,3.7h-1.8l-3.7,-3.7v-1.8zM429.1,151.4h1.8l3.7,3.7v1.8l-3.7,3.7h-1.8l-3.7,-3.7v-1.8zM432.1,164.4h1.8l3.7,3.7v1.8l-3.7,3.7h-1.8l-3.7,-3.7v-1.8zM434.9,144.4h1.8l3.7,3.7v1.8l-3.7,3.7h-1.8l-3.7,-3.7v-1.8zM439.1,155.4h1.8l3.7,3.7v1.8l-3.7,3.7h-1.8l-3.7,-3.7v-1.8zM440.4,160.4h1.8l3.7,3.7v1.8l-3.7,3.7h-1.8l-3.7,-3.7v-1.8zM441.6,144.4h1.8l3.7,3.7v1.8l-3.7,3.7h-1.8l-3.7,-3.7v-1.8zM445.4,129.4h1.8l3.7,3.7v1.8l-3.7,3.7h-1.8l-3.7,-3.7v-1.8zM449.1,146.4h1.8l3.7,3.7v1.8l-3.7,3.7h-1.8l-3.7,-3.7v-1.8zM452.9,142.9h1.8l3.7,3.7v1.8l-3.7,3.7h-1.8l-3.7,-3.7v-1.8zM455.4,147.9h1.8l3.7,3.7v1.8l-3.7,3.7h-1.8l-3.7,-3.7v-1.8zM457.4,154.4h1.8l3.7,3.7v1.8l-3.7,3.7h-1.8l-3.7,-3.7v-1.8zM460.4,182.9h1.8l3.7,3.7v1.8l-3.7,3.7h-1.8l-3.7,-3.7v-1.8zM463.4,163.4h1.8l3.7,3.7v1.8l-3.7,3.7h-1.8l-3.7,-3.7v-1.8zM465.4,180.4h1.8l3.7,3.7v1.8l-3.7,3.7h-1.8l-3.7,-3.7v-1.8zM469.1,177.9h1.8l3.7,3.7v1.8l-3.7,3.7h-1.8l-3.7,-3.7v-1.8zM472.9,174.4h1.8l3.7,3.7v1.8l-3.7,3.7h-1.8l-3.7,-3.7v-1.8zM475.4,189.4h1.8l3.7,3.7v1.8l-3.7,3.7h-1.8l-3.7,-3.7v-1.8zM478.4,155.4h1.8l3.7,3.7v1.8l-3.7,3.7h-1.8l-3.7,-3.7v-1.8zM480.9,160.4h1.8l3.7,3.7v1.8l-3.7,3.7h-1.8l-3.7,-3.7v-1.8zM483.6,166.4h1.8l3.7,3.7v1.8l-3.7,3.7h-1.8l-3.7,-3.7v-1.8zM486.6,181.4h1.8l3.7,3.7v1.8l-3.7,3.7h-1.8l-3.7,-3.7v-1.8zM489.1,182.9h1.8l3.7,3.7v1.8l-3.7,3.7h-1.8l-3.7,-3.7v-1.8zM491.1,211.4h1.8l3.7,3.7v1.8l-3.7,3.7h-1.8l-3.7,-3.7v-1.8zM493.6,208.9h1.8l3.7,3.7v1.8l-3.7,3.7h-1.8l-3.7,-3.7v-1.8zM497.1,219.4h1.8l3.7,3.7v1.8l-3.7,3.7h-1.8l-3.7,-3.7v-1.8zM500.1,212.9h1.8l3.7,3.7v1.8l-3.7,3.7h-1.8l-3.7,-3.7v-1.8zM504.1,216.9h1.8l3.7,3.7v1.8l-3.7,3.7h-1.8l-3.7,-3.7v-1.8zM508.1,211.9h1.8l3.7,3.7v1.8l-3.7,3.7h-1.8l-3.7,-3.7v-1.8zM509.6,204.4h1.8l3.7,3.7v1.8l-3.7,3.7h-1.8l-3.7,-3.7v-1.8zM512.1,215.4h1.8l3.7,3.7v1.8l-3.7,3.7h-1.8l-3.7,-3.7v-1.8zM514.1,210.4h1.8l3.7,3.7v1.8l-3.7,3.7h-1.8l-3.7,-3.7v-1.8zM517.6,202.4h1.8l3.7,3.7v1.8l-3.7,3.7h-1.8l-3.7,-3.7v-1.8zM520.1,206.9h1.8l3.7,3.7v1.8l-3.7,3.7h-1.8l-3.7,-3.7v-1.8zM522.1,160.4h1.8l3.7,3.7v1.8l-3.7,3.7h-1.8l-3.7,-3.7v-1.8zM524.6,158.4h1.8l3.7,3.7v1.8l-3.7,3.7h-1.8l-3.7,-3.7v-1.8zM527.1,185.4h1.8l3.7,3.7v1.8l-3.7,3.7h-1.8l-3.7,-3.7v-1.8zM528.6,164.4h1.8l3.7,3.7v1.8l-3.7,3.7h-1.8l-3.7,-3.7v-1.8zM532.9,172.9h1.8l3.7,3.7v1.8l-3.7,3.7h-1.8l-3.7,-3.7v-1.8zM535.4,157.9h1.8l3.7,3.7v1.8l-3.7,3.7h-1.8l-3.7,-3.7v-1.8zM537.9,166.4h1.8l3.7,3.7v1.8l-3.7,3.7h-1.8l-3.7,-3.7v-1.8zM540.9,154.4h1.8l3.7,3.7v1.8l-3.7,3.7h-1.8l-3.7,-3.7v-1.8zM543.1,159.4h1.8l3.7,3.7v1.8l-3.7,3.7h-1.8l-3.7,-3.7v-1.8zM545.4,166.4h1.8l3.7,3.7v1.8l-3.7,3.7h-1.8l-3.7,-3.7v-1.8zM546.6,156.4h1.8l3.7,3.7v1.8l-3.7,3.7h-1.8l-3.7,-3.7v-1.8zM550.4,154.4h1.8l3.7,3.7v1.8l-3.7,3.7h-1.8l-3.7,-3.7v-1.8zM553.4,125.9h1.8l3.7,3.7v1.8l-3.7,3.7h-1.8l-3.7,-3.7v-1.8zM555.4,140.4h1.8l3.7,3.7v1.8l-3.7,3.7h-1.8l-3.7,-3.7v-1.8zM557.9,142.2h1.8l3.7,3.7v1.8l-3.7,3.7h-1.8l-3.7,-3.7v-1.8zM560.4,144.4h1.8l3.7,3.7v1.8l-3.7,3.7h-1.8l-3.7,-3.7v-1.8zM561.6,154.4h1.8l3.7,3.7v1.8l-3.7,3.7h-1.8l-3.7,-3.7v-1.8zM565.9,142.4h1.8l3.7,3.7v1.8l-3.7,3.7h-1.8l-3.7,-3.7v-1.8zM568.4,159.4h1.8l3.7,3.7v1.8l-3.7,3.7h-1.8l-3.7,-3.7v-1.8zM571.6,161.4h1.8l3.7,3.7v1.8l-3.7,3.7h-1.8l-3.7,-3.7v-1.8zM573.6,139.4h1.8l3.7,3.7v1.8l-3.7,3.7h-1.8l-3.7,-3.7v-1.8zM576.1,129.4h1.8l3.7,3.7v1.8l-3.7,3.7h-1.8l-3.7,-3.7v-1.8zM578.6,134.4h1.8l3.7,3.7v1.8l-3.7,3.7h-1.8l-3.7,-3.7v-1.8zM581.6,152.9h1.8l3.7,3.7v1.8l-3.7,3.7h-1.8l-3.7,-3.7v-1.8zM584.1,166.4h1.8l3.7,3.7v1.8l-3.7,3.7h-1.8l-3.7,-3.7v-1.8zM586.6,146.4h1.8l3.7,3.7v1.8l-3.7,3.7h-1.8l-3.7,-3.7v-1.8zM589.1,139.4h1.8l3.7,3.7v1.8l-3.7,3.7h-1.8l-3.7,-3.7v-1.8zM591.6,166.4h1.8l3.7,3.7v1.8l-3.7,3.7h-1.8l-3.7,-3.7v-1.8zM595.4,161.4h1.8l3.7,3.7v1.8l-3.7,3.7h-1.8l-3.7,-3.7v-1.8zM596.6,164.4h1.8l3.7,3.7v1.8l-3.7,3.7h-1.8l-3.7,-3.7v-1.8zM599.1,144.4h1.8l3.7,3.7v1.8l-3.7,3.7h-1.8l-3.7,-3.7v-1.8zM602.9,142.9h1.8l3.7,3.7v1.8l-3.7,3.7h-1.8l-3.7,-3.7v-1.8zM606.6,149.4h1.8l3.7,3.7v1.8l-3.7,3.7h-1.8l-3.7,-3.7v-1.8zM609.6,152.4h1.8l3.7,3.7v1.8l-3.7,3.7h-1.8l-3.7,-3.7v-1.8zM612.1,163.4h1.8l3.7,3.7v1.8l-3.7,3.7h-1.8l-3.7,-3.7v-1.8zM614.1,186.4h1.8l3.7,3.7v1.8l-3.7,3.7h-1.8l-3.7,-3.7v-1.8zM617.9,179.4h1.8l3.7,3.7v1.8l-3.7,3.7h-1.8l-3.7,-3.7v-1.8zM620.4,176.4h1.8l3.7,3.7v1.8l-3.7,3.7h-1.8l-3.7,-3.7v-1.8zM622.9,162.9h1.8l3.7,3.7v1.8l-3.7,3.7h-1.8l-3.7,-3.7v-1.8zM625.4,167.9h1.8l3.7,3.7v1.8l-3.7,3.7h-1.8l-3.7,-3.7v-1.8zM627.4,180.9h1.8l3.7,3.7v1.8l-3.7,3.7h-1.8l-3.7,-3.7v-1.8zM630.4,164.4h1.8l3.7,3.7v1.8l-3.7,3.7h-1.8l-3.7,-3.7v-1.8zM632.4,195.9h1.8l3.7,3.7v1.8l-3.7,3.7h-1.8l-3.7,-3.7v-1.8zM635.4,165.4h1.8l3.7,3.7v1.8l-3.7,3.7h-1.8l-3.7,-3.7v-1.8zM639.1,155.4h1.8l3.7,3.7v1.8l-3.7,3.7h-1.8l-3.7,-3.7v-1.8zM640.4,160.4h1.8l3.7,3.7v1.8l-3.7,3.7h-1.8l-3.7,-3.7v-1.8zM644.1,152.9h1.8l3.7,3.7v1.8l-3.7,3.7h-1.8l-3.7,-3.7v-1.8zM645.4,172.9h1.8l3.7,3.7v1.8l-3.7,3.7h-1.8l-3.7,-3.7v-1.8zM648.6,172.9h1.8l3.7,3.7v1.8l-3.7,3.7h-1.8l-3.7,-3.7v-1.8zM650.4,166.4h1.8l3.7,3.7v1.8l-3.7,3.7h-1.8l-3.7,-3.7v-1.8zM653.4,159.9h1.8l3.7,3.7v1.8l-3.7,3.7h-1.8l-3.7,-3.7v-1.8zM656.6,150.4h1.8l3.7,3.7v1.8l-3.7,3.7h-1.8l-3.7,-3.7v-1.8zM658.4,136.4h1.8l3.7,3.7v1.8l-3.7,3.7h-1.8l-3.7,-3.7v-1.8zM661.6,144.4h1.8l3.7,3.7v1.8l-3.7,3.7h-1.8l-3.7,-3.7v-1.8zM663.6,141.4h1.8l3.7,3.7v1.8l-3.7,3.7h-1.8l-3.7,-3.7v-1.8zM666.6,127.4h1.8l3.7,3.7v1.8l-3.7,3.7h-1.8l-3.7,-3.7v-1.8zM669.9,131.4h1.8l3.7,3.7v1.8l-3.7,3.7h-1.8l-3.7,-3.7v-1.8zM671.6,127.4h1.8l3.7,3.7v1.8l-3.7,3.7h-1.8l-3.7,-3.7v-1.8zM674.1,137.9h1.8l3.7,3.7v1.8l-3.7,3.7h-1.8l-3.7,-3.7v-1.8zM676.6,140.4h1.8l3.7,3.7v1.8l-3.7,3.7h-1.8l-3.7,-3.7v-1.8zM679.1,159.4h1.8l3.7,3.7v1.8l-3.7,3.7h-1.8l-3.7,-3.7v-1.8zM680.4,145.4h1.8l3.7,3.7v1.8l-3.7,3.7h-1.8l-3.7,-3.7v-1.8zM682.6,153.2h1.8l3.7,3.7v1.8l-3.7,3.7h-1.8l-3.7,-3.7v-1.8zM684.9,159.4h1.8l3.7,3.7v1.8l-3.7,3.7h-1.8l-3.7,-3.7v-1.8zM686.6,146.4h1.8l3.7,3.7v1.8l-3.7,3.7h-1.8l-3.7,-3.7v-1.8zM689.1,146.2h1.8l3.7,3.7v1.8l-3.7,3.7h-1.8l-3.7,-3.7v-1.8zM691.6,147.9h1.8l3.7,3.7v1.8l-3.7,3.7h-1.8l-3.7,-3.7v-1.8zM694.1,138.4h1.8l3.7,3.7v1.8l-3.7,3.7h-1.8l-3.7,-3.7v-1.8zM697.9,141.4h1.8l3.7,3.7v1.8l-3.7,3.7h-1.8l-3.7,-3.7v-1.8zM701.6,135.4h1.8l3.7,3.7v1.8l-3.7,3.7h-1.8l-3.7,-3.7v-1.8zM704.9,132.9h1.8l3.7,3.7v1.8l-3.7,3.7h-1.8l-3.7,-3.7v-1.8zM707.9,145.4h1.8l3.7,3.7v1.8l-3.7,3.7h-1.8l-3.7,-3.7v-1.8zM710.1,141.2h1.8l3.7,3.7v1.8l-3.7,3.7h-1.8l-3.7,-3.7v-1.8zM712.4,138.4h1.8l3.7,3.7v1.8l-3.7,3.7h-1.8l-3.7,-3.7v-1.8zM715.4,152.9h1.8l3.7,3.7v1.8l-3.7,3.7h-1.8l-3.7,-3.7v-1.8zM717.9,149.4h1.8l3.7,3.7v1.8l-3.7,3.7h-1.8l-3.7,-3.7v-1.8zM720.4,159.4h1.8l3.7,3.7v1.8l-3.7,3.7h-1.8l-3.7,-3.7v-1.8zM722.4,166.4h1.8l3.7,3.7v1.8l-3.7,3.7h-1.8l-3.7,-3.7v-1.8zM725.4,133.4h1.8l3.7,3.7v1.8l-3.7,3.7h-1.8l-3.7,-3.7v-1.8zM728.4,146.4h1.8l3.7,3.7v1.8l-3.7,3.7h-1.8l-3.7,-3.7v-1.8zM730.4,155.4h1.8l3.7,3.7v1.8l-3.7,3.7h-1.8l-3.7,-3.7v-1.8zM734.1,165.4h1.8l3.7,3.7v1.8l-3.7,3.7h-1.8l-3.7,-3.7v-1.8zM737.9,152.9h1.8l3.7,3.7v1.8l-3.7,3.7h-1.8l-3.7,-3.7v-1.8zM740.4,134.4h1.8l3.7,3.7v1.8l-3.7,3.7h-1.8l-3.7,-3.7v-1.8zM742.9,154.4h1.8l3.7,3.7v1.8l-3.7,3.7h-1.8l-3.7,-3.7v-1.8zM745.6,146.2h1.8l3.7,3.7v1.8l-3.7,3.7h-1.8l-3.7,-3.7v-1.8zM748.4,137.4h1.8l3.7,3.7v1.8l-3.7,3.7h-1.8l-3.7,-3.7v-1.8zM750.4,146.4h1.8l3.7,3.7v1.8l-3.7,3.7h-1.8l-3.7,-3.7v-1.8zM753.4,155.4h1.8l3.7,3.7v1.8l-3.7,3.7h-1.8l-3.7,-3.7v-1.8zM756.1,168.4h1.8l3.7,3.7v1.8l-3.7,3.7h-1.8l-3.7,-3.7v-1.8zM759.1,148.4h1.8l3.7,3.7v1.8l-3.7,3.7h-1.8l-3.7,-3.7v-1.8z"/>
<polyline fill="none" stroke="#cccccc" stroke-width="1.8" stroke-linejoin="round" stroke-linecap="round" points="60.6,186.0 62.3,203.0 66.2,127.0 70.6,103.0 72.5,131.0 75.6,147.5 78.5,77.3 80.0,115.6 83.1,66.3 85.6,108.0 88.8,68.1 90.0,110.0 93.4,100.6 96.5,104.4 99.4,171.0 101.9,136.0 103.8,171.5 106.9,103.0 108.5,170.0 111.2,147.0 113.5,193.5 116.0,192.5 118.5,191.0 121.0,207.0 122.5,190.0 125.0,188.0 126.2,178.0 129.4,241.0 132.5,213.8 133.8,172.0 136.2,171.0 138.0,170.6 139.4,220.0 141.2,201.0 144.4,173.8 147.5,232.5 151.2,209.0 155.0,207.5 157.5,236.0 160.5,240.0 162.5,232.5 165.0,204.0 167.5,213.6 170.0,221.0 172.5,206.0 176.2,231.0 178.8,231.0 180.5,207.5 183.8,257.5 186.2,227.5 188.8,241.0 191.2,274.0 193.0,247.5 196.2,225.0 200.0,245.0 202.2,239.7 204.5,234.0 207.0,242.5 210.0,255.0 211.8,271.0 214.2,213.0 216.2,260.0 220.0,235.0 223.8,241.0 226.2,247.5 228.8,239.0 231.2,245.0 233.8,236.0 237.5,232.5 240.0,234.0 242.5,236.0 246.2,259.0 250.0,240.0 253.8,254.0 257.5,252.5 260.5,244.0 262.8,248.6 265.0,251.0 268.8,242.5 272.5,239.0 276.2,207.0 278.8,239.0 281.2,212.5 283.8,206.0 286.2,193.0 290.0,219.0 293.8,200.0 296.8,206.0 300.0,199.5 302.5,207.5 304.5,204.0 307.0,240.0 310.0,211.0 313.8,221.0 317.5,205.0 320.0,220.0 323.8,211.0 326.2,215.5 328.0,201.0 331.2,209.0 335.0,201.0 336.2,259.0 338.8,254.7 341.2,252.5 343.8,249.0 348.0,236.0 350.0,244.0 353.0,222.0 355.2,224.9 357.5,226.0 361.2,231.0 363.8,229.5 366.2,229.0 368.2,248.0 370.0,240.0 373.8,234.0 377.5,241.0 381.2,230.0 383.8,233.6 386.2,239.0 390.0,247.5 393.8,244.0 397.5,247.5 400.0,247.3 402.5,249.0 405.0,244.0 407.5,240.0 410.5,269.0 412.5,250.0 416.2,246.0 420.0,254.0 423.0,265.0 425.2,262.8 427.5,259.0 431.2,231.0 433.8,250.0 436.2,232.5 440.0,240.0 441.2,230.0 442.5,249.0 444.6,244.9 446.7,242.5 448.8,239.0 452.5,250.0 455.0,250.3 457.5,250.0 460.0,244.7 462.5,240.0 466.2,209.0 470.0,236.0 472.1,233.3 474.2,229.3 476.2,227.5 478.3,224.8 480.4,223.5 482.5,222.5 486.2,230.0 489.2,240.0 491.5,244.9 493.8,249.0 496.2,250.6 498.8,252.5 502.5,260.0 505.0,258.3 507.5,257.5 510.0,262.0 512.5,266.0 515.0,260.4 517.5,255.0 520.5,267.0 523.8,291.0 527.5,292.5 531.2,287.5 533.8,285.3 536.2,284.0 538.8,283.2 541.2,281.0 543.3,280.8 545.4,279.1 547.5,279.0 551.2,284.0 553.8,271.0 555.8,280.0 559.5,251.0 561.8,276.0 565.0,285.0 568.8,292.5 572.5,295.0 575.0,292.2 577.5,289.0 580.0,293.3 582.5,297.5 585.0,272.5 587.5,245.0 590.0,266.0 592.5,229.0 595.5,212.5 598.8,252.5 601.2,250.9 603.8,247.5 605.8,246.9 607.9,244.7 610.0,244.0 612.5,251.0 615.0,309.0 618.8,295.0 622.5,294.0 624.6,293.8 626.7,290.4 628.8,290.0 631.2,293.6 633.8,297.5 636.2,297.4 638.8,296.0 641.2,294.2 643.8,294.0 645.8,295.1 647.9,295.2 650.0,297.5 652.5,298.7 655.0,299.0 657.5,299.1 660.0,298.2 662.5,297.5 665.0,297.7 667.5,296.0 670.0,295.1 672.5,295.0 675.0,291.0 677.5,286.0 681.2,282.5 683.8,286.5 686.2,290.0 690.0,279.0 692.5,274.0 695.0,286.0 698.8,294.0 702.5,290.0 706.2,296.0 710.0,287.5 712.5,295.0 716.2,285.0 720.0,286.0 722.5,275.0 726.2,279.0 728.8,270.0 731.2,277.5 734.5,262.5 736.2,274.0 738.8,287.5 741.2,294.0 743.8,285.0 747.5,284.0 749.5,275.0 752.5,291.0 755.0,265.0 757.5,271.0 760.5,282.5"/>
<path fill="#cccccc" d="M59.7,181.4h1.8l3.7,3.7v1.8l-3.7,3.7h-1.8l-3.7,-3.7v-1.8zM61.4,198.4h1.8l3.7,3.7v1.8l-3.7,3.7h-1.8l-3.7,-3.7v-1.8zM65.3,122.4h1.8l3.7,3.7v1.8l-3.7,3.7h-1.8l-3.7,-3.7v-1.8zM69.7,98.4h1.8l3.7,3.7v1.8l-3.7,3.7h-1.8l-3.7,-3.7v-1.8zM71.6,126.4h1.8l3.7,3.7v1.8l-3.7,3.7h-1.8l-3.7,-3.7v-1.8zM74.7,142.9h1.8l3.7,3.7v1.8l-3.7,3.7h-1.8l-3.7,-3.7v-1.8zM77.6,72.7h1.8l3.7,3.7v1.8l-3.7,3.7h-1.8l-3.7,-3.7v-1.8zM79.1,111.0h1.8l3.7,3.7v1.8l-3.7,3.7h-1.8l-3.7,-3.7v-1.8zM82.2,61.7h1.8l3.7,3.7v1.8l-3.7,3.7h-1.8l-3.7,-3.7v-1.8zM84.7,103.4h1.8l3.7,3.7v1.8l-3.7,3.7h-1.8l-3.7,-3.7v-1.8zM87.9,63.5h1.8l3.7,3.7v1.8l-3.7,3.7h-1.8l-3.7,-3.7v-1.8zM89.1,105.4h1.8l3.7,3.7v1.8l-3.7,3.7h-1.8l-3.7,-3.7v-1.8zM92.5,96.0h1.8l3.7,3.7v1.8l-3.7,3.7h-1.8l-3.7,-3.7v-1.8zM95.6,99.8h1.8l3.7,3.7v1.8l-3.7,3.7h-1.8l-3.7,-3.7v-1.8zM98.5,166.4h1.8l3.7,3.7v1.8l-3.7,3.7h-1.8l-3.7,-3.7v-1.8zM101.0,131.4h1.8l3.7,3.7v1.8l-3.7,3.7h-1.8l-3.7,-3.7v-1.8zM102.8,166.9h1.8l3.7,3.7v1.8l-3.7,3.7h-1.8l-3.7,-3.7v-1.8zM106.0,98.4h1.8l3.7,3.7v1.8l-3.7,3.7h-1.8l-3.7,-3.7v-1.8zM107.6,165.4h1.8l3.7,3.7v1.8l-3.7,3.7h-1.8l-3.7,-3.7v-1.8zM110.3,142.4h1.8l3.7,3.7v1.8l-3.7,3.7h-1.8l-3.7,-3.7v-1.8zM112.6,188.9h1.8l3.7,3.7v1.8l-3.7,3.7h-1.8l-3.7,-3.7v-1.8zM115.1,187.9h1.8l3.7,3.7v1.8l-3.7,3.7h-1.8l-3.7,-3.7v-1.8zM117.6,186.4h1.8l3.7,3.7v1.8l-3.7,3.7h-1.8l-3.7,-3.7v-1.8zM120.1,202.4h1.8l3.7,3.7v1.8l-3.7,3.7h-1.8l-3.7,-3.7v-1.8zM121.6,185.4h1.8l3.7,3.7v1.8l-3.7,3.7h-1.8l-3.7,-3.7v-1.8zM124.1,183.4h1.8l3.7,3.7v1.8l-3.7,3.7h-1.8l-3.7,-3.7v-1.8zM125.3,173.4h1.8l3.7,3.7v1.8l-3.7,3.7h-1.8l-3.7,-3.7v-1.8zM128.5,236.4h1.8l3.7,3.7v1.8l-3.7,3.7h-1.8l-3.7,-3.7v-1.8zM131.6,209.2h1.8l3.7,3.7v1.8l-3.7,3.7h-1.8l-3.7,-3.7v-1.8zM132.8,167.4h1.8l3.7,3.7v1.8l-3.7,3.7h-1.8l-3.7,-3.7v-1.8zM135.3,166.4h1.8l3.7,3.7v1.8l-3.7,3.7h-1.8l-3.7,-3.7v-1.8zM137.1,166.0h1.8l3.7,3.7v1.8l-3.7,3.7h-1.8l-3.7,-3.7v-1.8zM138.5,215.4h1.8l3.7,3.7v1.8l-3.7,3.7h-1.8l-3.7,-3.7v-1.8zM140.3,196.4h1.8l3.7,3.7v1.8l-3.7,3.7h-1.8l-3.7,-3.7v-1.8zM143.5,169.2h1.8l3.7,3.7v1.8l-3.7,3.7h-1.8l-3.7,-3.7v-1.8zM146.6,227.9h1.8l3.7,3.7v1.8l-3.7,3.7h-1.8l-3.7,-3.7v-1.8zM150.3,204.4h1.8l3.7,3.7v1.8l-3.7,3.7h-1.8l-3.7,-3.7v-1.8zM154.1,202.9h1.8l3.7,3.7v1.8l-3.7,3.7h-1.8l-3.7,-3.7v-1.8zM156.6,231.4h1.8l3.7,3.7v1.8l-3.7,3.7h-1.8l-3.7,-3.7v-1.8zM159.6,235.4h1.8l3.7,3.7v1.8l-3.7,3.7h-1.8l-3.7,-3.7v-1.8zM161.6,227.9h1.8l3.7,3.7v1.8l-3.7,3.7h-1.8l-3.7,-3.7v-1.8zM164.1,199.4h1.8l3.7,3.7v1.8l-3.7,3.7h-1.8l-3.7,-3.7v-1.8zM166.6,209.0h1.8l3.7,3.7v1.8l-3.7,3.7h-1.8l-3.7,-3.7v-1.8zM169.1,216.4h1.8l3.7,3.7v1.8l-3.7,3.7h-1.8l-3.7,-3.7v-1.8zM171.6,201.4h1.8l3.7,3.7v1.8l-3.7,3.7h-1.8l-3.7,-3.7v-1.8zM175.3,226.4h1.8l3.7,3.7v1.8l-3.7,3.7h-1.8l-3.7,-3.7v-1.8zM177.8,226.4h1.8l3.7,3.7v1.8l-3.7,3.7h-1.8l-3.7,-3.7v-1.8zM179.6,202.9h1.8l3.7,3.7v1.8l-3.7,3.7h-1.8l-3.7,-3.7v-1.8zM182.8,252.9h1.8l3.7,3.7v1.8l-3.7,3.7h-1.8l-3.7,-3.7v-1.8zM185.3,222.9h1.8l3.7,3.7v1.8l-3.7,3.7h-1.8l-3.7,-3.7v-1.8zM187.8,236.4h1.8l3.7,3.7v1.8l-3.7,3.7h-1.8l-3.7,-3.7v-1.8zM190.3,269.4h1.8l3.7,3.7v1.8l-3.7,3.7h-1.8l-3.7,-3.7v-1.8zM192.1,242.9h1.8l3.7,3.7v1.8l-3.7,3.7h-1.8l-3.7,-3.7v-1.8zM195.3,220.4h1.8l3.7,3.7v1.8l-3.7,3.7h-1.8l-3.7,-3.7v-1.8zM199.1,240.4h1.8l3.7,3.7v1.8l-3.7,3.7h-1.8l-3.7,-3.7v-1.8zM201.3,235.1h1.8l3.7,3.7v1.8l-3.7,3.7h-1.8l-3.7,-3.7v-1.8zM203.6,229.4h1.8l3.7,3.7v1.8l-3.7,3.7h-1.8l-3.7,-3.7v-1.8zM206.1,237.9h1.8l3.7,3.7v1.8l-3.7,3.7h-1.8l-3.7,-3.7v-1.8zM209.1,250.4h1.8l3.7,3.7v1.8l-3.7,3.7h-1.8l-3.7,-3.7v-1.8zM210.8,266.4h1.8l3.7,3.7v1.8l-3.7,3.7h-1.8l-3.7,-3.7v-1.8zM213.3,208.4h1.8l3.7,3.7v1.8l-3.7,3.7h-1.8l-3.7,-3.7v-1.8zM215.3,255.4h1.8l3.7,3.7v1.8l-3.7,3.7h-1.8l-3.7,-3.7v-1.8zM219.1,230.4h1.8l3.7,3.7v1.8l-3.7,3.7h-1.8l-3.7,-3.7v-1.8zM222.8,236.4h1.8l3.7,3.7v1.8l-3.7,3.7h-1.8l-3.7,-3.7v-1.8zM225.3,242.9h1.8l3.7,3.7v1.8l-3.7,3.7h-1.8l-3.7,-3.7v-1.8zM227.8,234.4h1.8l3.7,3.7v1.8l-3.7,3.7h-1.8l-3.7,-3.7v-1.8zM230.3,240.4h1.8l3.7,3.7v1.8l-3.7,3.7h-1.8l-3.7,-3.7v-1.8zM232.8,231.4h1.8l3.7,3.7v1.8l-3.7,3.7h-1.8l-3.7,-3.7v-1.8zM236.6,227.9h1.8l3.7,3.7v1.8l-3.7,3.7h-1.8l-3.7,-3.7v-1.8zM239.1,229.4h1.8l3.7,3.7v1.8l-3.7,3.7h-1.8l-3.7,-3.7v-1.8zM241.6,231.4h1.8l3.7,3.7v1.8l-3.7,3.7h-1.8l-3.7,-3.7v-1.8zM245.3,254.4h1.8l3.7,3.7v1.8l-3.7,3.7h-1.8l-3.7,-3.7v-1.8zM249.1,235.4h1.8l3.7,3.7v1.8l-3.7,3.7h-1.8l-3.7,-3.7v-1.8zM252.8,249.4h1.8l3.7,3.7v1.8l-3.7,3.7h-1.8l-3.7,-3.7v-1.8zM256.6,247.9h1.8l3.7,3.7v1.8l-3.7,3.7h-1.8l-3.7,-3.7v-1.8zM259.6,239.4h1.8l3.7,3.7v1.8l-3.7,3.7h-1.8l-3.7,-3.7v-1.8zM261.9,244.0h1.8l3.7,3.7v1.8l-3.7,3.7h-1.8l-3.7,-3.7v-1.8zM264.1,246.4h1.8l3.7,3.7v1.8l-3.7,3.7h-1.8l-3.7,-3.7v-1.8zM267.9,237.9h1.8l3.7,3.7v1.8l-3.7,3.7h-1.8l-3.7,-3.7v-1.8zM271.6,234.4h1.8l3.7,3.7v1.8l-3.7,3.7h-1.8l-3.7,-3.7v-1.8zM275.4,202.4h1.8l3.7,3.7v1.8l-3.7,3.7h-1.8l-3.7,-3.7v-1.8zM277.9,234.4h1.8l3.7,3.7v1.8l-3.7,3.7h-1.8l-3.7,-3.7v-1.8zM280.4,207.9h1.8l3.7,3.7v1.8l-3.7,3.7h-1.8l-3.7,-3.7v-1.8zM282.9,201.4h1.8l3.7,3.7v1.8l-3.7,3.7h-1.8l-3.7,-3.7v-1.8zM285.4,188.4h1.8l3.7,3.7v1.8l-3.7,3.7h-1.8l-3.7,-3.7v-1.8zM289.1,214.4h1.8l3.7,3.7v1.8l-3.7,3.7h-1.8l-3.7,-3.7v-1.8zM292.9,195.4h1.8l3.7,3.7v1.8l-3.7,3.7h-1.8l-3.7,-3.7v-1.8zM295.9,201.4h1.8l3.7,3.7v1.8l-3.7,3.7h-1.8l-3.7,-3.7v-1.8zM299.1,194.9h1.8l3.7,3.7v1.8l-3.7,3.7h-1.8l-3.7,-3.7v-1.8zM301.6,202.9h1.8l3.7,3.7v1.8l-3.7,3.7h-1.8l-3.7,-3.7v-1.8zM303.6,199.4h1.8l3.7,3.7v1.8l-3.7,3.7h-1.8l-3.7,-3.7v-1.8zM306.1,235.4h1.8l3.7,3.7v1.8l-3.7,3.7h-1.8l-3.7,-3.7v-1.8zM309.1,206.4h1.8l3.7,3.7v1.8l-3.7,3.7h-1.8l-3.7,-3.7v-1.8zM312.9,216.4h1.8l3.7,3.7v1.8l-3.7,3.7h-1.8l-3.7,-3.7v-1.8zM316.6,200.4h1.8l3.7,3.7v1.8l-3.7,3.7h-1.8l-3.7,-3.7v-1.8zM319.1,215.4h1.8l3.7,3.7v1.8l-3.7,3.7h-1.8l-3.7,-3.7v-1.8zM322.9,206.4h1.8l3.7,3.7v1.8l-3.7,3.7h-1.8l-3.7,-3.7v-1.8zM325.4,210.9h1.8l3.7,3.7v1.8l-3.7,3.7h-1.8l-3.7,-3.7v-1.8zM327.1,196.4h1.8l3.7,3.7v1.8l-3.7,3.7h-1.8l-3.7,-3.7v-1.8zM330.4,204.4h1.8l3.7,3.7v1.8l-3.7,3.7h-1.8l-3.7,-3.7v-1.8zM334.1,196.4h1.8l3.7,3.7v1.8l-3.7,3.7h-1.8l-3.7,-3.7v-1.8zM335.4,254.4h1.8l3.7,3.7v1.8l-3.7,3.7h-1.8l-3.7,-3.7v-1.8zM337.9,250.1h1.8l3.7,3.7v1.8l-3.7,3.7h-1.8l-3.7,-3.7v-1.8zM340.4,247.9h1.8l3.7,3.7v1.8l-3.7,3.7h-1.8l-3.7,-3.7v-1.8zM342.9,244.4h1.8l3.7,3.7v1.8l-3.7,3.7h-1.8l-3.7,-3.7v-1.8zM347.1,231.4h1.8l3.7,3.7v1.8l-3.7,3.7h-1.8l-3.7,-3.7v-1.8zM349.1,239.4h1.8l3.7,3.7v1.8l-3.7,3.7h-1.8l-3.7,-3.7v-1.8zM352.1,217.4h1.8l3.7,3.7v1.8l-3.7,3.7h-1.8l-3.7,-3.7v-1.8zM354.4,220.3h1.8l3.7,3.7v1.8l-3.7,3.7h-1.8l-3.7,-3.7v-1.8zM356.6,221.4h1.8l3.7,3.7v1.8l-3.7,3.7h-1.8l-3.7,-3.7v-1.8zM360.4,226.4h1.8l3.7,3.7v1.8l-3.7,3.7h-1.8l-3.7,-3.7v-1.8zM362.9,224.9h1.8l3.7,3.7v1.8l-3.7,3.7h-1.8l-3.7,-3.7v-1.8zM365.4,224.4h1.8l3.7,3.7v1.8l-3.7,3.7h-1.8l-3.7,-3.7v-1.8zM367.4,243.4h1.8l3.7,3.7v1.8l-3.7,3.7h-1.8l-3.7,-3.7v-1.8zM369.1,235.4h1.8l3.7,3.7v1.8l-3.7,3.7h-1.8l-3.7,-3.7v-1.8zM372.9,229.4h1.8l3.7,3.7v1.8l-3.7,3.7h-1.8l-3.7,-3.7v-1.8zM376.6,236.4h1.8l3.7,3.7v1.8l-3.7,3.7h-1.8l-3.7,-3.7v-1.8zM380.4,225.4h1.8l3.7,3.7v1.8l-3.7,3.7h-1.8l-3.7,-3.7v-1.8zM382.9,229.0h1.8l3.7,3.7v1.8l-3.7,3.7h-1.8l-3.7,-3.7v-1.8zM385.4,234.4h1.8l3.7,3.7v1.8l-3.7,3.7h-1.8l-3.7,-3.7v-1.8zM389.1,242.9h1.8l3.7,3.7v1.8l-3.7,3.7h-1.8l-3.7,-3.7v-1.8zM392.9,239.4h1.8l3.7,3.7v1.8l-3.7,3.7h-1.8l-3.7,-3.7v-1.8zM396.6,242.9h1.8l3.7,3.7v1.8l-3.7,3.7h-1.8l-3.7,-3.7v-1.8zM399.1,242.7h1.8l3.7,3.7v1.8l-3.7,3.7h-1.8l-3.7,-3.7v-1.8zM401.6,244.4h1.8l3.7,3.7v1.8l-3.7,3.7h-1.8l-3.7,-3.7v-1.8zM404.1,239.4h1.8l3.7,3.7v1.8l-3.7,3.7h-1.8l-3.7,-3.7v-1.8zM406.6,235.4h1.8l3.7,3.7v1.8l-3.7,3.7h-1.8l-3.7,-3.7v-1.8zM409.6,264.4h1.8l3.7,3.7v1.8l-3.7,3.7h-1.8l-3.7,-3.7v-1.8zM411.6,245.4h1.8l3.7,3.7v1.8l-3.7,3.7h-1.8l-3.7,-3.7v-1.8zM415.4,241.4h1.8l3.7,3.7v1.8l-3.7,3.7h-1.8l-3.7,-3.7v-1.8zM419.1,249.4h1.8l3.7,3.7v1.8l-3.7,3.7h-1.8l-3.7,-3.7v-1.8zM422.1,260.4h1.8l3.7,3.7v1.8l-3.7,3.7h-1.8l-3.7,-3.7v-1.8zM424.4,258.2h1.8l3.7,3.7v1.8l-3.7,3.7h-1.8l-3.7,-3.7v-1.8zM426.6,254.4h1.8l3.7,3.7v1.8l-3.7,3.7h-1.8l-3.7,-3.7v-1.8zM430.4,226.4h1.8l3.7,3.7v1.8l-3.7,3.7h-1.8l-3.7,-3.7v-1.8zM432.9,245.4h1.8l3.7,3.7v1.8l-3.7,3.7h-1.8l-3.7,-3.7v-1.8zM435.4,227.9h1.8l3.7,3.7v1.8l-3.7,3.7h-1.8l-3.7,-3.7v-1.8zM439.1,235.4h1.8l3.7,3.7v1.8l-3.7,3.7h-1.8l-3.7,-3.7v-1.8zM440.4,225.4h1.8l3.7,3.7v1.8l-3.7,3.7h-1.8l-3.7,-3.7v-1.8zM441.6,244.4h1.8l3.7,3.7v1.8l-3.7,3.7h-1.8l-3.7,-3.7v-1.8zM443.7,240.3h1.8l3.7,3.7v1.8l-3.7,3.7h-1.8l-3.7,-3.7v-1.8zM445.8,237.9h1.8l3.7,3.7v1.8l-3.7,3.7h-1.8l-3.7,-3.7v-1.8zM447.9,234.4h1.8l3.7,3.7v1.8l-3.7,3.7h-1.8l-3.7,-3.7v-1.8zM451.6,245.4h1.8l3.7,3.7v1.8l-3.7,3.7h-1.8l-3.7,-3.7v-1.8zM454.1,245.7h1.8l3.7,3.7v1.8l-3.7,3.7h-1.8l-3.7,-3.7v-1.8zM456.6,245.4h1.8l3.7,3.7v1.8l-3.7,3.7h-1.8l-3.7,-3.7v-1.8zM459.1,240.1h1.8l3.7,3.7v1.8l-3.7,3.7h-1.8l-3.7,-3.7v-1.8zM461.6,235.4h1.8l3.7,3.7v1.8l-3.7,3.7h-1.8l-3.7,-3.7v-1.8zM465.4,204.4h1.8l3.7,3.7v1.8l-3.7,3.7h-1.8l-3.7,-3.7v-1.8zM469.1,231.4h1.8l3.7,3.7v1.8l-3.7,3.7h-1.8l-3.7,-3.7v-1.8zM471.2,228.7h1.8l3.7,3.7v1.8l-3.7,3.7h-1.8l-3.7,-3.7v-1.8zM473.3,224.7h1.8l3.7,3.7v1.8l-3.7,3.7h-1.8l-3.7,-3.7v-1.8zM475.4,222.9h1.8l3.7,3.7v1.8l-3.7,3.7h-1.8l-3.7,-3.7v-1.8zM477.4,220.2h1.8l3.7,3.7v1.8l-3.7,3.7h-1.8l-3.7,-3.7v-1.8zM479.5,218.9h1.8l3.7,3.7v1.8l-3.7,3.7h-1.8l-3.7,-3.7v-1.8zM481.6,217.9h1.8l3.7,3.7v1.8l-3.7,3.7h-1.8l-3.7,-3.7v-1.8zM485.4,225.4h1.8l3.7,3.7v1.8l-3.7,3.7h-1.8l-3.7,-3.7v-1.8zM488.4,235.4h1.8l3.7,3.7v1.8l-3.7,3.7h-1.8l-3.7,-3.7v-1.8zM490.6,240.3h1.8l3.7,3.7v1.8l-3.7,3.7h-1.8l-3.7,-3.7v-1.8zM492.9,244.4h1.8l3.7,3.7v1.8l-3.7,3.7h-1.8l-3.7,-3.7v-1.8zM495.4,246.0h1.8l3.7,3.7v1.8l-3.7,3.7h-1.8l-3.7,-3.7v-1.8zM497.9,247.9h1.8l3.7,3.7v1.8l-3.7,3.7h-1.8l-3.7,-3.7v-1.8zM501.6,255.4h1.8l3.7,3.7v1.8l-3.7,3.7h-1.8l-3.7,-3.7v-1.8zM504.1,253.7h1.8l3.7,3.7v1.8l-3.7,3.7h-1.8l-3.7,-3.7v-1.8zM506.6,252.9h1.8l3.7,3.7v1.8l-3.7,3.7h-1.8l-3.7,-3.7v-1.8zM509.1,257.4h1.8l3.7,3.7v1.8l-3.7,3.7h-1.8l-3.7,-3.7v-1.8zM511.6,261.4h1.8l3.7,3.7v1.8l-3.7,3.7h-1.8l-3.7,-3.7v-1.8zM514.1,255.8h1.8l3.7,3.7v1.8l-3.7,3.7h-1.8l-3.7,-3.7v-1.8zM516.6,250.4h1.8l3.7,3.7v1.8l-3.7,3.7h-1.8l-3.7,-3.7v-1.8zM519.6,262.4h1.8l3.7,3.7v1.8l-3.7,3.7h-1.8l-3.7,-3.7v-1.8zM522.9,286.4h1.8l3.7,3.7v1.8l-3.7,3.7h-1.8l-3.7,-3.7v-1.8zM526.6,287.9h1.8l3.7,3.7v1.8l-3.7,3.7h-1.8l-3.7,-3.7v-1.8zM530.4,282.9h1.8l3.7,3.7v1.8l-3.7,3.7h-1.8l-3.7,-3.7v-1.8zM532.9,280.7h1.8l3.7,3.7v1.8l-3.7,3.7h-1.8l-3.7,-3.7v-1.8zM535.4,279.4h1.8l3.7,3.7v1.8l-3.7,3.7h-1.8l-3.7,-3.7v-1.8zM537.9,278.6h1.8l3.7,3.7v1.8l-3.7,3.7h-1.8l-3.7,-3.7v-1.8zM540.4,276.4h1.8l3.7,3.7v1.8l-3.7,3.7h-1.8l-3.7,-3.7v-1.8zM542.4,276.2h1.8l3.7,3.7v1.8l-3.7,3.7h-1.8l-3.7,-3.7v-1.8zM544.5,274.5h1.8l3.7,3.7v1.8l-3.7,3.7h-1.8l-3.7,-3.7v-1.8zM546.6,274.4h1.8l3.7,3.7v1.8l-3.7,3.7h-1.8l-3.7,-3.7v-1.8zM550.4,279.4h1.8l3.7,3.7v1.8l-3.7,3.7h-1.8l-3.7,-3.7v-1.8zM552.9,266.4h1.8l3.7,3.7v1.8l-3.7,3.7h-1.8l-3.7,-3.7v-1.8zM554.9,275.4h1.8l3.7,3.7v1.8l-3.7,3.7h-1.8l-3.7,-3.7v-1.8zM558.6,246.4h1.8l3.7,3.7v1.8l-3.7,3.7h-1.8l-3.7,-3.7v-1.8zM560.9,271.4h1.8l3.7,3.7v1.8l-3.7,3.7h-1.8l-3.7,-3.7v-1.8zM564.1,280.4h1.8l3.7,3.7v1.8l-3.7,3.7h-1.8l-3.7,-3.7v-1.8zM567.9,287.9h1.8l3.7,3.7v1.8l-3.7,3.7h-1.8l-3.7,-3.7v-1.8zM571.6,290.4h1.8l3.7,3.7v1.8l-3.7,3.7h-1.8l-3.7,-3.7v-1.8zM574.1,287.6h1.8l3.7,3.7v1.8l-3.7,3.7h-1.8l-3.7,-3.7v-1.8zM576.6,284.4h1.8l3.7,3.7v1.8l-3.7,3.7h-1.8l-3.7,-3.7v-1.8zM579.1,288.7h1.8l3.7,3.7v1.8l-3.7,3.7h-1.8l-3.7,-3.7v-1.8zM581.6,292.9h1.8l3.7,3.7v1.8l-3.7,3.7h-1.8l-3.7,-3.7v-1.8zM584.1,267.9h1.8l3.7,3.7v1.8l-3.7,3.7h-1.8l-3.7,-3.7v-1.8zM586.6,240.4h1.8l3.7,3.7v1.8l-3.7,3.7h-1.8l-3.7,-3.7v-1.8zM589.1,261.4h1.8l3.7,3.7v1.8l-3.7,3.7h-1.8l-3.7,-3.7v-1.8zM591.6,224.4h1.8l3.7,3.7v1.8l-3.7,3.7h-1.8l-3.7,-3.7v-1.8zM594.6,207.9h1.8l3.7,3.7v1.8l-3.7,3.7h-1.8l-3.7,-3.7v-1.8zM597.9,247.9h1.8l3.7,3.7v1.8l-3.7,3.7h-1.8l-3.7,-3.7v-1.8zM600.4,246.3h1.8l3.7,3.7v1.8l-3.7,3.7h-1.8l-3.7,-3.7v-1.8zM602.9,242.9h1.8l3.7,3.7v1.8l-3.7,3.7h-1.8l-3.7,-3.7v-1.8zM604.9,242.3h1.8l3.7,3.7v1.8l-3.7,3.7h-1.8l-3.7,-3.7v-1.8zM607.0,240.1h1.8l3.7,3.7v1.8l-3.7,3.7h-1.8l-3.7,-3.7v-1.8zM609.1,239.4h1.8l3.7,3.7v1.8l-3.7,3.7h-1.8l-3.7,-3.7v-1.8zM611.6,246.4h1.8l3.7,3.7v1.8l-3.7,3.7h-1.8l-3.7,-3.7v-1.8zM614.1,304.4h1.8l3.7,3.7v1.8l-3.7,3.7h-1.8l-3.7,-3.7v-1.8zM617.9,290.4h1.8l3.7,3.7v1.8l-3.7,3.7h-1.8l-3.7,-3.7v-1.8zM621.6,289.4h1.8l3.7,3.7v1.8l-3.7,3.7h-1.8l-3.7,-3.7v-1.8zM623.7,289.2h1.8l3.7,3.7v1.8l-3.7,3.7h-1.8l-3.7,-3.7v-1.8zM625.8,285.8h1.8l3.7,3.7v1.8l-3.7,3.7h-1.8l-3.7,-3.7v-1.8zM627.9,285.4h1.8l3.7,3.7v1.8l-3.7,3.7h-1.8l-3.7,-3.7v-1.8zM630.4,289.0h1.8l3.7,3.7v1.8l-3.7,3.7h-1.8l-3.7,-3.7v-1.8zM632.9,292.9h1.8l3.7,3.7v1.8l-3.7,3.7h-1.8l-3.7,-3.7v-1.8zM635.4,292.8h1.8l3.7,3.7v1.8l-3.7,3.7h-1.8l-3.7,-3.7v-1.8zM637.9,291.4h1.8l3.7,3.7v1.8l-3.7,3.7h-1.8l-3.7,-3.7v-1.8zM640.4,289.6h1.8l3.7,3.7v1.8l-3.7,3.7h-1.8l-3.7,-3.7v-1.8zM642.9,289.4h1.8l3.7,3.7v1.8l-3.7,3.7h-1.8l-3.7,-3.7v-1.8zM644.9,290.5h1.8l3.7,3.7v1.8l-3.7,3.7h-1.8l-3.7,-3.7v-1.8zM647.0,290.6h1.8l3.7,3.7v1.8l-3.7,3.7h-1.8l-3.7,-3.7v-1.8zM649.1,292.9h1.8l3.7,3.7v1.8l-3.7,3.7h-1.8l-3.7,-3.7v-1.8zM651.6,294.1h1.8l3.7,3.7v1.8l-3.7,3.7h-1.8l-3.7,-3.7v-1.8zM654.1,294.4h1.8l3.7,3.7v1.8l-3.7,3.7h-1.8l-3.7,-3.7v-1.8zM656.6,294.5h1.8l3.7,3.7v1.8l-3.7,3.7h-1.8l-3.7,-3.7v-1.8zM659.1,293.6h1.8l3.7,3.7v1.8l-3.7,3.7h-1.8l-3.7,-3.7v-1.8zM661.6,292.9h1.8l3.7,3.7v1.8l-3.7,3.7h-1.8l-3.7,-3.7v-1.8zM664.1,293.1h1.8l3.7,3.7v1.8l-3.7,3.7h-1.8l-3.7,-3.7v-1.8zM666.6,291.4h1.8l3.7,3.7v1.8l-3.7,3.7h-1.8l-3.7,-3.7v-1.8zM669.1,290.5h1.8l3.7,3.7v1.8l-3.7,3.7h-1.8l-3.7,-3.7v-1.8zM671.6,290.4h1.8l3.7,3.7v1.8l-3.7,3.7h-1.8l-3.7,-3.7v-1.8zM674.1,286.4h1.8l3.7,3.7v1.8l-3.7,3.7h-1.8l-3.7,-3.7v-1.8zM676.6,281.4h1.8l3.7,3.7v1.8l-3.7,3.7h-1.8l-3.7,-3.7v-1.8zM680.4,277.9h1.8l3.7,3.7v1.8l-3.7,3.7h-1.8l-3.7,-3.7v-1.8zM682.9,281.9h1.8l3.7,3.7v1.8l-3.7,3.7h-1.8l-3.7,-3.7v-1.8zM685.4,285.4h1.8l3.7,3.7v1.8l-3.7,3.7h-1.8l-3.7,-3.7v-1.8zM689.1,274.4h1.8l3.7,3.7v1.8l-3.7,3.7h-1.8l-3.7,-3.7v-1.8zM691.6,269.4h1.8l3.7,3.7v1.8l-3.7,3.7h-1.8l-3.7,-3.7v-1.8zM694.1,281.4h1.8l3.7,3.7v1.8l-3.7,3.7h-1.8l-3.7,-3.7v-1.8zM697.9,289.4h1.8l3.7,3.7v1.8l-3.7,3.7h-1.8l-3.7,-3.7v-1.8zM701.6,285.4h1.8l3.7,3.7v1.8l-3.7,3.7h-1.8l-3.7,-3.7v-1.8zM705.4,291.4h1.8l3.7,3.7v1.8l-3.7,3.7h-1.8l-3.7,-3.7v-1.8zM709.1,282.9h1.8l3.7,3.7v1.8l-3.7,3.7h-1.8l-3.7,-3.7v-1.8zM711.6,290.4h1.8l3.7,3.7v1.8l-3.7,3.7h-1.8l-3.7,-3.7v-1.8zM715.4,280.4h1.8l3.7,3.7v1.8l-3.7,3.7h-1.8l-3.7,-3.7v-1.8zM719.1,281.4h1.8l3.7,3.7v1.8l-3.7,3.7h-1.8l-3.7,-3.7v-1.8zM721.6,270.4h1.8l3.7,3.7v1.8l-3.7,3.7h-1.8l-3.7,-3.7v-1.8zM725.4,274.4h1.8l3.7,3.7v1.8l-3.7,3.7h-1.8l-3.7,-3.7v-1.8zM727.9,265.4h1.8l3.7,3.7v1.8l-3.7,3.7h-1.8l-3.7,-3.7v-1.8zM730.4,272.9h1.8l3.7,3.7v1.8l-3.7,3.7h-1.8l-3.7,-3.7v-1.8zM733.6,257.9h1.8l3.7,3.7v1.8l-3.7,3.7h-1.8l-3.7,-3.7v-1.8zM735.4,269.4h1.8l3.7,3.7v1.8l-3.7,3.7h-1.8l-3.7,-3.7v-1.8zM737.9,282.9h1.8l3.7,3.7v1.8l-3.7,3.7h-1.8l-3.7,-3.7v-1.8zM740.4,289.4h1.8l3.7,3.7v1.8l-3.7,3.7h-1.8l-3.7,-3.7v-1.8zM742.9,280.4h1.8l3.7,3.7v1.8l-3.7,3.7h-1.8l-3.7,-3.7v-1.8zM746.6,279.4h1.8l3.7,3.7v1.8l-3.7,3.7h-1.8l-3.7,-3.7v-1.8zM748.6,270.4h1.8l3.7,3.7v1.8l-3.7,3.7h-1.8l-3.7,-3.7v-1.8zM751.6,286.4h1.8l3.7,3.7v1.8l-3.7,3.7h-1.8l-3.7,-3.7v-1.8zM754.1,260.4h1.8l3.7,3.7v1.8l-3.7,3.7h-1.8l-3.7,-3.7v-1.8zM756.6,266.4h1.8l3.7,3.7v1.8l-3.7,3.7h-1.8l-3.7,-3.7v-1.8zM759.6,277.9h1.8l3.7,3.7v1.8l-3.7,3.7h-1.8l-3.7,-3.7v-1.8z"/>
</svg>
</body></html>
